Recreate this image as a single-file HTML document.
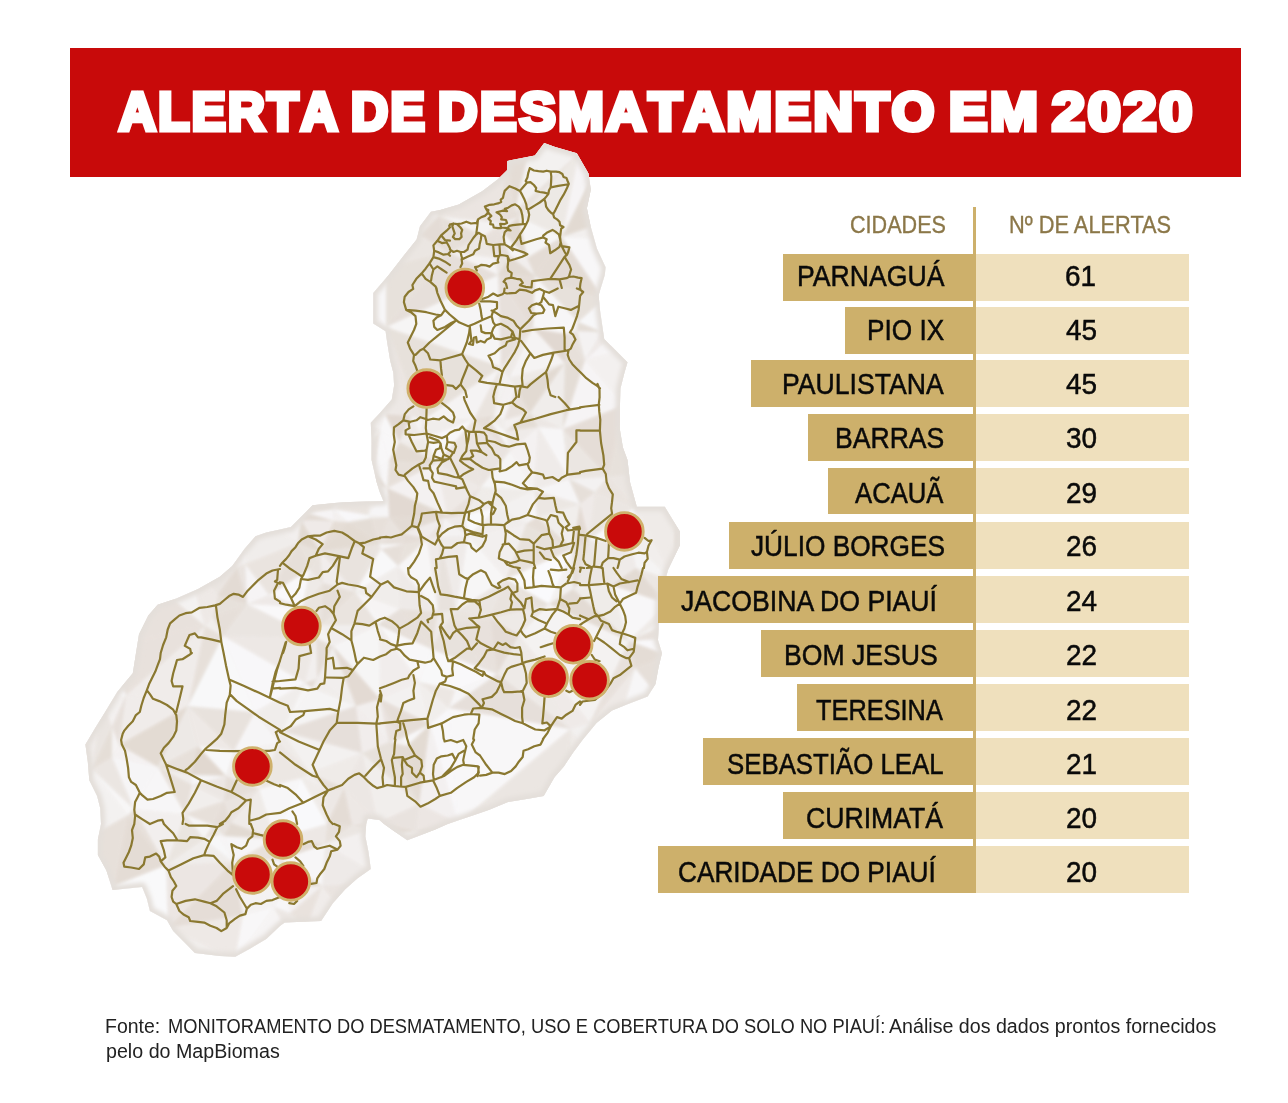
<!DOCTYPE html>
<html lang="pt-BR">
<head>
<meta charset="utf-8">
<title>Alerta de desmatamento em 2020</title>
<style>
html,body{margin:0;padding:0;background:#fff;}
body{width:1288px;height:1103px;position:relative;overflow:hidden;font-family:"Liberation Sans",sans-serif;}
#banner{position:absolute;left:70px;top:48px;width:1171px;height:129px;background:#c80a0a;}
.t{position:absolute;display:block;line-height:60px;white-space:nowrap;transform-origin:0 50%;margin:0;}
#title{position:absolute;left:0;top:0;margin:0;font-weight:bold;color:#fff;font-size:56px;}
#title .t{font-weight:bold;-webkit-text-stroke:5px #fff;font-kerning:none;}
#map{position:absolute;left:0;top:0;width:1288px;height:1103px;}
.hd{color:#8b7748;-webkit-text-stroke:0.35px #8b7748;}
#vline{position:absolute;left:973px;top:207px;width:3px;height:686px;background:#cdb06b;}
.row{position:absolute;left:0;width:1288px;height:46.5px;}
.city{position:absolute;top:0;height:46.5px;background:#cdb06b;color:#0a0a0a;-webkit-text-stroke:0.5px #0a0a0a;}
.num{position:absolute;top:0;left:976px;width:213px;height:46.5px;background:#efe0bd;color:#0a0a0a;-webkit-text-stroke:0.5px #0a0a0a;}
#src{position:absolute;left:0;top:0;margin:0;color:#222;font-size:20px;}
</style>
</head>
<body>
<div id="banner"></div>
<svg id="map" viewBox="0 0 1288 1103" width="1288" height="1103">
<defs><clipPath id="pc"><path d="M420.0 226.2 L430.9 211.7 L440.2 209.9 L458.8 204.4 L482.1 191.2 L497.6 179.6 L507.0 170.3 L507.3 161.0 L534.9 155.5 L544.2 143.1 L555.1 147.0 L576.8 153.2 L588.5 173.4 L590.8 189.7 L586.9 208.3 L590.8 227.0 L597.0 248.7 L605.6 267.3 L604.8 275.1 L598.6 295.3 L600.1 310.8 L604.2 339.0 L615.1 349.8 L627.5 362.2 L624.4 373.1 L620.5 388.6 L619.8 410.4 L619.8 429.0 L622.9 447.6 L627.5 460.0 L630.0 482.0 L636.8 506.8 L664.8 506.8 L680.0 531.7 L680.0 545.0 L668.0 570.0 L660.0 600.0 L658.0 640.0 L662.0 653.0 L658.6 667.0 L655.5 684.1 L647.7 696.5 L627.5 704.2 L612.0 710.5 L596.5 722.9 L582.5 740.0 L573.2 752.4 L563.9 766.4 L554.5 777.2 L548.3 788.1 L543.7 795.9 L526.6 799.0 L508.0 802.1 L489.3 809.8 L480.0 812.9 L447.7 824.0 L435.3 829.4 L419.8 835.6 L407.3 840.3 L394.9 831.8 L384.0 824.0 L379.4 820.0 L367.7 818.4 L366.2 824.0 L365.4 836.4 L368.5 852.0 L370.8 869.0 L357.6 878.3 L345.2 889.2 L332.8 903.2 L321.1 921.0 L303.3 921.8 L284.7 922.6 L280.0 926.0 L266.3 938.9 L250.8 948.2 L235.3 956.8 L219.8 956.0 L194.9 952.9 L185.6 943.6 L173.2 931.1 L167.0 920.3 L149.9 911.0 L146.8 898.5 L142.1 886.9 L112.6 890.0 L106.4 870.6 L97.9 855.1 L97.9 839.5 L101.0 824.0 L100.2 808.3 L97.1 795.9 L89.3 780.3 L87.8 761.7 L85.4 744.6 L95.5 727.5 L103.3 715.1 L117.3 691.8 L132.8 673.2 L136.0 653.0 L139.0 634.2 L148.3 615.5 L157.6 604.7 L176.3 598.5 L198.0 589.1 L219.8 576.7 L232.2 565.9 L244.6 548.8 L255.5 536.3 L266.3 532.5 L280.0 529.5 L290.9 527.0 L312.6 505.3 L342.1 502.2 L383.3 500.9 L379.4 491.3 L376.6 482.0 L371.6 460.1 L371.6 443.0 L370.8 422.8 L379.4 413.5 L391.8 399.5 L394.1 385.5 L393.4 373.1 L390.2 360.7 L387.1 342.1 L385.6 331.2 L373.2 323.4 L373.2 311.0 L373.2 293.0 L388.7 275.1 L404.2 254.9 L416.6 239.4Z"/></clipPath><filter id="edge" x="-5%" y="-5%" width="110%" height="110%"><feGaussianBlur stdDeviation="2.2"/></filter></defs>
<path d="M420.0 226.2 L430.9 211.7 L440.2 209.9 L458.8 204.4 L482.1 191.2 L497.6 179.6 L507.0 170.3 L507.3 161.0 L534.9 155.5 L544.2 143.1 L555.1 147.0 L576.8 153.2 L588.5 173.4 L590.8 189.7 L586.9 208.3 L590.8 227.0 L597.0 248.7 L605.6 267.3 L604.8 275.1 L598.6 295.3 L600.1 310.8 L604.2 339.0 L615.1 349.8 L627.5 362.2 L624.4 373.1 L620.5 388.6 L619.8 410.4 L619.8 429.0 L622.9 447.6 L627.5 460.0 L630.0 482.0 L636.8 506.8 L664.8 506.8 L680.0 531.7 L680.0 545.0 L668.0 570.0 L660.0 600.0 L658.0 640.0 L662.0 653.0 L658.6 667.0 L655.5 684.1 L647.7 696.5 L627.5 704.2 L612.0 710.5 L596.5 722.9 L582.5 740.0 L573.2 752.4 L563.9 766.4 L554.5 777.2 L548.3 788.1 L543.7 795.9 L526.6 799.0 L508.0 802.1 L489.3 809.8 L480.0 812.9 L447.7 824.0 L435.3 829.4 L419.8 835.6 L407.3 840.3 L394.9 831.8 L384.0 824.0 L379.4 820.0 L367.7 818.4 L366.2 824.0 L365.4 836.4 L368.5 852.0 L370.8 869.0 L357.6 878.3 L345.2 889.2 L332.8 903.2 L321.1 921.0 L303.3 921.8 L284.7 922.6 L280.0 926.0 L266.3 938.9 L250.8 948.2 L235.3 956.8 L219.8 956.0 L194.9 952.9 L185.6 943.6 L173.2 931.1 L167.0 920.3 L149.9 911.0 L146.8 898.5 L142.1 886.9 L112.6 890.0 L106.4 870.6 L97.9 855.1 L97.9 839.5 L101.0 824.0 L100.2 808.3 L97.1 795.9 L89.3 780.3 L87.8 761.7 L85.4 744.6 L95.5 727.5 L103.3 715.1 L117.3 691.8 L132.8 673.2 L136.0 653.0 L139.0 634.2 L148.3 615.5 L157.6 604.7 L176.3 598.5 L198.0 589.1 L219.8 576.7 L232.2 565.9 L244.6 548.8 L255.5 536.3 L266.3 532.5 L280.0 529.5 L290.9 527.0 L312.6 505.3 L342.1 502.2 L383.3 500.9 L379.4 491.3 L376.6 482.0 L371.6 460.1 L371.6 443.0 L370.8 422.8 L379.4 413.5 L391.8 399.5 L394.1 385.5 L393.4 373.1 L390.2 360.7 L387.1 342.1 L385.6 331.2 L373.2 323.4 L373.2 311.0 L373.2 293.0 L388.7 275.1 L404.2 254.9 L416.6 239.4Z" fill="#e9e6e3"/>
<g clip-path="url(#pc)"><filter id="soft" x="-5%" y="-5%" width="110%" height="110%" color-interpolation-filters="sRGB"><feGaussianBlur stdDeviation="1.4"/></filter>
<g filter="url(#soft)" stroke="none">
<path d="M698 705L684 600L700 427z" fill="#e7e0db"/>
<path d="M663 966L659 927L692 943z" fill="#e8e2dc"/>
<path d="M181 162L123 139L228 157z" fill="#f1edec"/>
<path d="M123 139L181 162L152 164z" fill="#f9f8fa"/>
<path d="M111 183L123 139L152 164z" fill="#f2efee"/>
<path d="M693 217L652 183L634 135z" fill="#e7e0db"/>
<path d="M579 153L531 141L634 135z" fill="#eeeae7"/>
<path d="M113 255L78 279L70 237z" fill="#ebe6e2"/>
<path d="M193 253L186 315L164 297z" fill="#f0ecea"/>
<path d="M72 416L71 541L70 237z" fill="#e7e0da"/>
<path d="M115 922L154 965L99 941z" fill="#f3f1f0"/>
<path d="M233 862L168 928L166 865z" fill="#ece6e3"/>
<path d="M154 965L168 928L173 974z" fill="#f3f0ef"/>
<path d="M168 928L154 965L115 922z" fill="#ebe6e2"/>
<path d="M684 600L676 478L700 427z" fill="#e3dbd4"/>
<path d="M676 478L655 472L700 427z" fill="#e5ded8"/>
<path d="M223 636L188 706L205 626z" fill="#e7e0da"/>
<path d="M519 635L629 641L590 723z" fill="#f4f2f1"/>
<path d="M629 641L519 635L549 604z" fill="#f5f3f3"/>
<path d="M592 775L663 819L574 795z" fill="#e4dcd5"/>
<path d="M333 646L317 679L316 638z" fill="#e5ded8"/>
<path d="M589 885L579 900L575 861z" fill="#ede8e5"/>
<path d="M190 167L158 229L152 164z" fill="#eae4df"/>
<path d="M181 162L190 167L152 164z" fill="#f0edeb"/>
<path d="M190 167L181 162L228 157z" fill="#fafafc"/>
<path d="M123 139L108 139L83 131z" fill="#f2f0ef"/>
<path d="M82 207L79 162L106 194z" fill="#f7f6f7"/>
<path d="M79 162L111 183L106 194z" fill="#e5ddd6"/>
<path d="M111 183L79 162L95 153z" fill="#e8e1dc"/>
<path d="M95 153L79 162L83 131z" fill="#f8f7f8"/>
<path d="M83 131L79 162L70 237z" fill="#e2dad2"/>
<path d="M79 162L82 207L70 237z" fill="#f0edeb"/>
<path d="M158 229L109 189L152 164z" fill="#eeeae7"/>
<path d="M109 189L111 183L152 164z" fill="#e4ddd6"/>
<path d="M111 183L109 189L106 194z" fill="#f2efed"/>
<path d="M440 137L519 135L506 155z" fill="#f9f9fb"/>
<path d="M519 135L531 141L506 155z" fill="#e2d9d2"/>
<path d="M531 141L519 135L634 135z" fill="#f9f8f9"/>
<path d="M227 201L232 178L276 169z" fill="#e4ddd6"/>
<path d="M169 262L193 253L164 297z" fill="#f1edec"/>
<path d="M193 253L250 237L269 269z" fill="#f3f1f0"/>
<path d="M250 237L227 201L276 169z" fill="#f9f9fa"/>
<path d="M190 167L199 223L158 229z" fill="#e5ddd6"/>
<path d="M113 255L108 217L158 229z" fill="#f9f8fa"/>
<path d="M109 189L108 217L106 194z" fill="#f3f1f0"/>
<path d="M108 217L109 189L158 229z" fill="#f0ecea"/>
<path d="M108 217L82 207L106 194z" fill="#f1eeed"/>
<path d="M82 207L108 217L70 237z" fill="#e9e2de"/>
<path d="M108 217L113 255L70 237z" fill="#eae5e0"/>
<path d="M124 293L169 262L164 297z" fill="#f1eeed"/>
<path d="M169 262L124 293L113 255z" fill="#ece7e3"/>
<path d="M186 315L167 311L164 297z" fill="#e2dad2"/>
<path d="M221 316L193 253L269 269z" fill="#e7e0db"/>
<path d="M221 316L186 315L193 253z" fill="#f7f5f6"/>
<path d="M168 928L235 959L173 974z" fill="#f1eeec"/>
<path d="M235 959L338 969L173 974z" fill="#ece6e3"/>
<path d="M204 839L233 862L166 865z" fill="#f0edeb"/>
<path d="M338 969L470 971L173 974z" fill="#e4dcd5"/>
<path d="M470 971L602 938L663 966z" fill="#f1edeb"/>
<path d="M602 938L470 971L496 929z" fill="#ede8e5"/>
<path d="M188 706L126 695L205 626z" fill="#f0ecea"/>
<path d="M119 745L126 695L188 706z" fill="#f0ecea"/>
<path d="M71 541L71 662L70 237z" fill="#e8e2dd"/>
<path d="M168 928L114 886L166 865z" fill="#f9f9fa"/>
<path d="M114 886L168 928L115 922z" fill="#e9e4df"/>
<path d="M474 419L481 487L437 463z" fill="#ebe5e1"/>
<path d="M531 141L515 211L506 155z" fill="#e4dcd5"/>
<path d="M515 211L531 141L579 153z" fill="#f3f1f0"/>
<path d="M699 290L695 262L693 217z" fill="#eee9e6"/>
<path d="M659 345L699 290L700 427z" fill="#f0edeb"/>
<path d="M655 472L624 405L700 427z" fill="#ece6e3"/>
<path d="M624 405L608 477L563 429z" fill="#e5ddd7"/>
<path d="M608 477L624 405L655 472z" fill="#e7e1db"/>
<path d="M674 581L676 478L684 600z" fill="#e4dcd6"/>
<path d="M570 729L519 635L590 723z" fill="#efeae8"/>
<path d="M549 604L540 607L506 579z" fill="#e7e1db"/>
<path d="M519 635L540 607L549 604z" fill="#ebe6e2"/>
<path d="M269 595L298 543L310 569z" fill="#e6dfd9"/>
<path d="M245 564L298 543L269 595z" fill="#eae4df"/>
<path d="M323 583L302 607L310 569z" fill="#eeeae7"/>
<path d="M302 607L269 595L310 569z" fill="#f9f8fa"/>
<path d="M305 683L223 636L316 638z" fill="#ede8e5"/>
<path d="M317 679L305 683L316 638z" fill="#f2efee"/>
<path d="M305 683L317 679L312 688z" fill="#e3dbd4"/>
<path d="M213 617L223 636L205 626z" fill="#f1eeec"/>
<path d="M223 636L247 604L316 638z" fill="#eae5e1"/>
<path d="M247 604L302 607L316 638z" fill="#f9f8f9"/>
<path d="M302 607L247 604L269 595z" fill="#eee9e7"/>
<path d="M213 617L247 604L223 636z" fill="#e6dfd9"/>
<path d="M247 604L245 564L269 595z" fill="#f6f4f5"/>
<path d="M672 808L663 819L657 782z" fill="#ede8e5"/>
<path d="M695 746L672 808L657 782z" fill="#ede8e5"/>
<path d="M663 819L647 776L657 782z" fill="#f5f3f3"/>
<path d="M592 775L647 776L663 819z" fill="#f0edeb"/>
<path d="M647 776L592 775L618 727z" fill="#f2efee"/>
<path d="M647 776L695 746L657 782z" fill="#eee9e6"/>
<path d="M695 746L647 776L618 727z" fill="#f3f1f0"/>
<path d="M618 727L585 749L590 723z" fill="#f1edec"/>
<path d="M585 749L570 729L590 723z" fill="#f2f0ef"/>
<path d="M570 729L585 749L574 795z" fill="#efebe8"/>
<path d="M579 900L537 892L575 861z" fill="#f8f7f9"/>
<path d="M537 892L602 938L496 929z" fill="#f3f0ef"/>
<path d="M602 938L537 892L579 900z" fill="#f8f7f8"/>
<path d="M356 706L317 679L333 646z" fill="#f1eeed"/>
<path d="M317 679L356 706L312 688z" fill="#f0edeb"/>
<path d="M663 819L573 843L574 795z" fill="#e7e0db"/>
<path d="M669 836L573 843L663 819z" fill="#ece7e4"/>
<path d="M573 843L669 836L573 849z" fill="#e7e1db"/>
<path d="M659 927L657 916L692 943z" fill="#e5ded7"/>
<path d="M694 818L698 705L692 943z" fill="#eae4e0"/>
<path d="M694 818L695 746L698 705z" fill="#f9f9fa"/>
<path d="M694 818L672 808L695 746z" fill="#e9e3df"/>
<path d="M589 885L613 893L579 900z" fill="#eae4e0"/>
<path d="M669 836L613 893L573 849z" fill="#f6f4f4"/>
<path d="M573 849L613 893L575 861z" fill="#e2dad2"/>
<path d="M613 893L589 885L575 861z" fill="#f3f1f0"/>
<path d="M97 144L95 153L83 131z" fill="#f2f0ef"/>
<path d="M108 139L97 144L83 131z" fill="#e6dfd9"/>
<path d="M101 148L111 183L95 153z" fill="#e9e3de"/>
<path d="M97 144L101 148L95 153z" fill="#f0ecea"/>
<path d="M101 148L97 144L108 139z" fill="#f3f1f0"/>
<path d="M111 183L101 148L123 139z" fill="#f3f0ef"/>
<path d="M101 148L108 139L123 139z" fill="#efebe9"/>
<path d="M652 183L628 149L634 135z" fill="#f5f4f4"/>
<path d="M624 162L628 149L652 183z" fill="#f0ecea"/>
<path d="M628 149L579 153L634 135z" fill="#e6ded8"/>
<path d="M619 217L624 162L652 183z" fill="#efebe8"/>
<path d="M305 160L335 205L276 169z" fill="#f4f2f2"/>
<path d="M335 205L250 237L276 169z" fill="#e8e1dc"/>
<path d="M314 143L123 139L83 131z" fill="#f0ecea"/>
<path d="M230 167L190 167L228 157z" fill="#ebe6e2"/>
<path d="M230 167L232 178L190 167z" fill="#f9f9fb"/>
<path d="M169 262L169 253L193 253z" fill="#e7e1db"/>
<path d="M169 253L113 255L158 229z" fill="#f9f8fa"/>
<path d="M169 253L169 262L113 255z" fill="#f9f8fa"/>
<path d="M215 197L199 223L190 167z" fill="#f9f9fb"/>
<path d="M215 197L232 178L227 201z" fill="#ebe6e2"/>
<path d="M232 178L215 197L190 167z" fill="#f4f2f2"/>
<path d="M219 220L250 237L193 253z" fill="#f1eeec"/>
<path d="M250 237L219 220L227 201z" fill="#e3dbd4"/>
<path d="M219 220L215 197L227 201z" fill="#eeeae7"/>
<path d="M215 197L219 220L199 223z" fill="#f1eeec"/>
<path d="M108 290L78 279L113 255z" fill="#ebe6e2"/>
<path d="M124 293L108 290L113 255z" fill="#f8f7f8"/>
<path d="M108 290L104 309L78 279z" fill="#ece7e3"/>
<path d="M104 309L108 290L124 293z" fill="#f7f6f7"/>
<path d="M137 514L115 396L205 453z" fill="#f4f2f2"/>
<path d="M115 396L110 513L72 416z" fill="#f1eeec"/>
<path d="M110 513L115 396L137 514z" fill="#f3f0ef"/>
<path d="M221 316L197 331L186 315z" fill="#e6ded8"/>
<path d="M197 331L221 316L225 349z" fill="#e5ded7"/>
<path d="M197 331L167 311L186 315z" fill="#eae4e0"/>
<path d="M227 384L197 331L225 349z" fill="#f2efee"/>
<path d="M235 959L301 957L338 969z" fill="#f7f6f6"/>
<path d="M224 801L231 823L213 825z" fill="#e5ddd7"/>
<path d="M231 823L224 836L213 825z" fill="#e8e2dd"/>
<path d="M126 695L112 727L102 702z" fill="#f3f0ef"/>
<path d="M112 727L126 695L119 745z" fill="#e7e0db"/>
<path d="M126 695L101 649L205 626z" fill="#e8e1dc"/>
<path d="M101 649L126 695L102 702z" fill="#f8f8f9"/>
<path d="M71 662L101 649L102 702z" fill="#f2efee"/>
<path d="M114 886L74 915L82 841z" fill="#f7f6f7"/>
<path d="M74 915L115 922L99 941z" fill="#e9e3de"/>
<path d="M74 915L114 886L115 922z" fill="#eae4df"/>
<path d="M74 915L71 662L82 841z" fill="#e6ded8"/>
<path d="M501 367L423 420L386 327z" fill="#e7e1db"/>
<path d="M423 420L501 367L474 419z" fill="#f5f3f3"/>
<path d="M565 363L530 413L516 389z" fill="#e2dad2"/>
<path d="M538 427L530 413L563 429z" fill="#ece7e4"/>
<path d="M530 413L565 363L563 429z" fill="#f0edeb"/>
<path d="M464 515L481 487L499 507z" fill="#efece9"/>
<path d="M481 487L534 490L499 507z" fill="#efece9"/>
<path d="M534 490L526 524L499 507z" fill="#f3f1f0"/>
<path d="M510 451L481 487L474 419z" fill="#eae4e0"/>
<path d="M534 490L510 451L538 427z" fill="#f4f1f1"/>
<path d="M510 451L534 490L481 487z" fill="#f6f5f5"/>
<path d="M562 237L519 217L579 153z" fill="#ede9e5"/>
<path d="M519 217L515 211L579 153z" fill="#e8e2dd"/>
<path d="M515 211L500 223L506 155z" fill="#e7e0da"/>
<path d="M519 217L500 223L515 211z" fill="#e6ded8"/>
<path d="M624 405L585 360L625 349z" fill="#f3f0ef"/>
<path d="M565 363L585 360L563 429z" fill="#e4ddd6"/>
<path d="M585 360L624 405L563 429z" fill="#f6f4f5"/>
<path d="M659 345L649 312L699 290z" fill="#e1d8d1"/>
<path d="M659 345L660 381L625 349z" fill="#f0edeb"/>
<path d="M660 381L624 405L625 349z" fill="#ece6e3"/>
<path d="M660 381L659 345L700 427z" fill="#eae4e0"/>
<path d="M624 405L660 381L700 427z" fill="#ede8e4"/>
<path d="M573 549L549 604L506 579z" fill="#fafafc"/>
<path d="M526 524L573 549L506 579z" fill="#e8e2dc"/>
<path d="M667 604L674 581L684 600z" fill="#eae4e0"/>
<path d="M674 581L667 604L636 568z" fill="#ece7e3"/>
<path d="M667 604L611 585L636 568z" fill="#e3dbd4"/>
<path d="M611 585L667 604L629 641z" fill="#f8f7f8"/>
<path d="M285 471L307 513L269 489z" fill="#fafafb"/>
<path d="M245 564L252 513L298 543z" fill="#f0edeb"/>
<path d="M246 468L252 513L235 512z" fill="#e7e0da"/>
<path d="M252 513L246 468L269 489z" fill="#e2d9d1"/>
<path d="M321 625L302 607L323 583z" fill="#eae4df"/>
<path d="M302 607L321 625L316 638z" fill="#eeeae7"/>
<path d="M321 625L333 646L316 638z" fill="#f5f3f3"/>
<path d="M333 646L321 625L379 625z" fill="#f1eeed"/>
<path d="M255 712L234 751L188 706z" fill="#e8e2dd"/>
<path d="M223 636L255 712L188 706z" fill="#f8f8f9"/>
<path d="M305 683L255 712L223 636z" fill="#f8f7f9"/>
<path d="M658 696L668 655L698 705z" fill="#e3dbd3"/>
<path d="M695 746L658 696L698 705z" fill="#e8e1dc"/>
<path d="M658 696L695 746L618 727z" fill="#e1d8d1"/>
<path d="M592 775L588 770L618 727z" fill="#eeeae7"/>
<path d="M588 770L585 749L618 727z" fill="#f4f2f1"/>
<path d="M588 770L592 775L574 795z" fill="#f0ecea"/>
<path d="M585 749L588 770L574 795z" fill="#e5ddd7"/>
<path d="M482 916L537 892L496 929z" fill="#e7e0da"/>
<path d="M537 892L482 916L497 853z" fill="#ede8e5"/>
<path d="M470 971L482 916L496 929z" fill="#f3f1f0"/>
<path d="M395 937L470 971L338 969z" fill="#f7f6f7"/>
<path d="M395 937L482 916L470 971z" fill="#f0ecea"/>
<path d="M482 916L395 937L395 877z" fill="#f0ecea"/>
<path d="M224 801L259 789L231 823z" fill="#eae4e0"/>
<path d="M259 789L224 801L226 776z" fill="#e5ded8"/>
<path d="M234 751L259 789L226 776z" fill="#f0edeb"/>
<path d="M573 843L564 805L574 795z" fill="#e6dfd9"/>
<path d="M564 805L570 729L574 795z" fill="#ece7e3"/>
<path d="M532 847L573 843L573 849z" fill="#f8f7f9"/>
<path d="M532 847L537 892L497 853z" fill="#f5f3f3"/>
<path d="M532 847L564 805L573 843z" fill="#f7f7f8"/>
<path d="M532 847L573 849L575 861z" fill="#e7e0db"/>
<path d="M537 892L532 847L575 861z" fill="#ede8e5"/>
<path d="M688 834L694 818L692 943z" fill="#eeeae8"/>
<path d="M688 834L669 836L663 819z" fill="#e6ded8"/>
<path d="M672 808L688 834L663 819z" fill="#e2dad3"/>
<path d="M694 818L688 834L672 808z" fill="#ede8e5"/>
<path d="M615 927L602 938L579 900z" fill="#eae4e0"/>
<path d="M613 893L615 927L579 900z" fill="#f2efed"/>
<path d="M615 927L613 893L619 899z" fill="#f2f0ef"/>
<path d="M657 916L615 927L619 899z" fill="#ebe5e1"/>
<path d="M615 927L657 916L659 927z" fill="#f4f2f2"/>
<path d="M615 927L659 927L663 966z" fill="#f4f2f2"/>
<path d="M602 938L615 927L663 966z" fill="#f5f3f3"/>
<path d="M619 217L598 165L624 162z" fill="#e4dcd5"/>
<path d="M628 149L598 165L579 153z" fill="#ebe6e2"/>
<path d="M598 165L628 149L624 162z" fill="#f4f2f1"/>
<path d="M598 165L562 237L579 153z" fill="#f6f4f5"/>
<path d="M598 165L619 217L562 237z" fill="#e2dad2"/>
<path d="M386 267L369 240L401 228z" fill="#f2efee"/>
<path d="M314 143L418 131L373 169z" fill="#e6dfd9"/>
<path d="M418 131L314 143L83 131z" fill="#f6f4f4"/>
<path d="M418 131L519 135L440 137z" fill="#f0edeb"/>
<path d="M519 135L418 131L634 135z" fill="#e7e0da"/>
<path d="M290 149L305 160L276 169z" fill="#e6dfd9"/>
<path d="M290 149L314 143L305 160z" fill="#e8e1dc"/>
<path d="M123 139L290 149L228 157z" fill="#eae4e0"/>
<path d="M314 143L290 149L123 139z" fill="#f3f0ef"/>
<path d="M169 253L192 240L193 253z" fill="#efece9"/>
<path d="M192 240L219 220L193 253z" fill="#f5f3f3"/>
<path d="M219 220L192 240L199 223z" fill="#f9f8f9"/>
<path d="M199 223L192 240L158 229z" fill="#f6f5f6"/>
<path d="M192 240L169 253L158 229z" fill="#ebe6e2"/>
<path d="M207 467L137 514L205 453z" fill="#f1eeec"/>
<path d="M207 467L185 533L137 514z" fill="#f1eeec"/>
<path d="M185 533L207 467L235 512z" fill="#f1eeec"/>
<path d="M207 467L246 468L235 512z" fill="#e3dbd4"/>
<path d="M227 543L185 533L235 512z" fill="#ede8e5"/>
<path d="M252 513L227 543L235 512z" fill="#ece7e3"/>
<path d="M227 543L252 513L245 564z" fill="#f5f3f3"/>
<path d="M185 533L136 517L137 514z" fill="#ece7e3"/>
<path d="M136 517L110 513L137 514z" fill="#f0edeb"/>
<path d="M218 595L247 604L213 617z" fill="#e7e1db"/>
<path d="M72 416L74 530L71 541z" fill="#f6f4f4"/>
<path d="M110 513L74 530L72 416z" fill="#e6dfd9"/>
<path d="M106 533L74 530L110 513z" fill="#f1eeec"/>
<path d="M136 517L106 533L110 513z" fill="#f0ecea"/>
<path d="M80 354L104 309L108 315z" fill="#f3f1f0"/>
<path d="M104 309L80 354L78 279z" fill="#efebe9"/>
<path d="M78 279L80 354L70 237z" fill="#ede9e6"/>
<path d="M80 354L72 416L70 237z" fill="#ece6e3"/>
<path d="M116 318L80 354L108 315z" fill="#f2f0ef"/>
<path d="M104 309L116 318L108 315z" fill="#f0ecea"/>
<path d="M116 318L104 309L124 293z" fill="#f0ecea"/>
<path d="M197 331L137 327L167 311z" fill="#e5ded8"/>
<path d="M137 327L116 318L124 293z" fill="#eee9e6"/>
<path d="M137 327L124 293L164 297z" fill="#e4dcd5"/>
<path d="M167 311L137 327L164 297z" fill="#e7e1db"/>
<path d="M234 376L227 384L225 349z" fill="#f1edec"/>
<path d="M227 384L234 376L261 388z" fill="#e5ddd7"/>
<path d="M241 429L227 384L261 388z" fill="#e8e2dd"/>
<path d="M246 468L241 429L267 455z" fill="#ebe5e1"/>
<path d="M273 345L234 376L225 349z" fill="#f6f4f4"/>
<path d="M234 376L273 345L261 388z" fill="#ebe5e1"/>
<path d="M273 345L221 316L269 269z" fill="#e2d9d2"/>
<path d="M221 316L273 345L225 349z" fill="#f8f7f8"/>
<path d="M285 471L271 478L267 455z" fill="#eae4df"/>
<path d="M271 478L285 471L269 489z" fill="#e8e1dc"/>
<path d="M271 478L246 468L267 455z" fill="#e8e2dd"/>
<path d="M246 468L271 478L269 489z" fill="#ede8e4"/>
<path d="M285 471L305 425L325 467z" fill="#e7e1db"/>
<path d="M353 924L395 937L338 969z" fill="#eae4e0"/>
<path d="M218 835L204 839L213 825z" fill="#e8e2dd"/>
<path d="M224 836L218 835L213 825z" fill="#f0edeb"/>
<path d="M204 839L218 835L233 862z" fill="#f7f7f8"/>
<path d="M218 835L224 836L233 862z" fill="#f7f5f6"/>
<path d="M234 751L198 746L188 706z" fill="#eee9e6"/>
<path d="M198 746L234 751L226 776z" fill="#f8f8f9"/>
<path d="M191 775L198 746L226 776z" fill="#e1d8d0"/>
<path d="M224 801L192 785L226 776z" fill="#ece7e4"/>
<path d="M192 785L191 775L226 776z" fill="#f6f5f6"/>
<path d="M101 649L81 640L99 601z" fill="#e6dfd9"/>
<path d="M81 640L101 649L71 662z" fill="#f9f9fb"/>
<path d="M81 640L71 662L71 541z" fill="#e7e0db"/>
<path d="M509 378L565 363L516 389z" fill="#eeeae7"/>
<path d="M565 363L509 378L533 328z" fill="#f5f3f3"/>
<path d="M509 378L501 367L533 328z" fill="#eeeae7"/>
<path d="M468 536L464 515L499 507z" fill="#f9f9fb"/>
<path d="M468 536L526 524L506 579z" fill="#f2efee"/>
<path d="M526 524L468 536L499 507z" fill="#f0edeb"/>
<path d="M456 611L468 536L506 579z" fill="#f7f6f6"/>
<path d="M468 536L444 518L464 515z" fill="#eeeae8"/>
<path d="M481 487L447 515L437 463z" fill="#eee9e6"/>
<path d="M464 515L447 515L481 487z" fill="#e8e1dc"/>
<path d="M444 518L447 515L464 515z" fill="#e2dad2"/>
<path d="M447 515L387 488L437 463z" fill="#f4f1f1"/>
<path d="M447 515L444 518L387 488z" fill="#e3dbd3"/>
<path d="M537 517L534 490L580 504z" fill="#ece7e3"/>
<path d="M534 490L537 517L526 524z" fill="#f7f6f7"/>
<path d="M573 549L537 517L580 504z" fill="#f1eeec"/>
<path d="M537 517L573 549L526 524z" fill="#e5ddd6"/>
<path d="M530 413L504 420L516 389z" fill="#e8e1dc"/>
<path d="M527 258L519 217L562 237z" fill="#f6f5f5"/>
<path d="M567 334L585 360L565 363z" fill="#e7e0da"/>
<path d="M567 334L565 363L533 328z" fill="#e1d8d1"/>
<path d="M578 322L567 334L533 328z" fill="#f8f7f8"/>
<path d="M604 299L602 332L578 322z" fill="#f7f7f8"/>
<path d="M534 490L569 479L580 504z" fill="#f6f5f6"/>
<path d="M569 479L595 492L580 504z" fill="#e6dfd9"/>
<path d="M569 479L538 427L563 429z" fill="#f7f6f7"/>
<path d="M569 479L534 490L538 427z" fill="#efebe9"/>
<path d="M608 477L569 479L563 429z" fill="#ebe6e2"/>
<path d="M595 492L569 479L608 477z" fill="#f3f1f1"/>
<path d="M611 585L631 542L636 568z" fill="#efebe9"/>
<path d="M631 542L674 581L636 568z" fill="#f5f4f4"/>
<path d="M444 518L389 517L387 488z" fill="#e2d9d2"/>
<path d="M355 592L381 622L379 625z" fill="#f9f9fb"/>
<path d="M381 622L355 592L400 609z" fill="#f6f4f4"/>
<path d="M355 592L398 566L400 609z" fill="#f0edeb"/>
<path d="M321 625L355 592L379 625z" fill="#eae4df"/>
<path d="M355 592L321 625L323 583z" fill="#e6dfd9"/>
<path d="M398 566L438 612L400 609z" fill="#eeeae8"/>
<path d="M438 612L398 566L427 539z" fill="#f7f6f6"/>
<path d="M321 486L285 471L325 467z" fill="#f3f1f0"/>
<path d="M321 486L307 513L285 471z" fill="#eeeae8"/>
<path d="M252 513L301 520L298 543z" fill="#f2efee"/>
<path d="M307 513L301 520L269 489z" fill="#f1eeec"/>
<path d="M301 520L252 513L269 489z" fill="#ede8e5"/>
<path d="M668 655L635 668L629 641z" fill="#e4dcd5"/>
<path d="M658 696L635 668L668 655z" fill="#e6dfd9"/>
<path d="M635 668L658 696L618 727z" fill="#f7f6f7"/>
<path d="M635 668L618 727L590 723z" fill="#eee9e6"/>
<path d="M629 641L635 668L590 723z" fill="#e8e1dc"/>
<path d="M356 706L282 731L312 688z" fill="#f5f4f4"/>
<path d="M282 731L305 683L312 688z" fill="#f6f5f5"/>
<path d="M282 731L255 712L305 683z" fill="#f0edeb"/>
<path d="M688 834L656 883L669 836z" fill="#e2dad2"/>
<path d="M656 883L657 916L619 899z" fill="#e9e3de"/>
<path d="M657 916L656 883L692 943z" fill="#f6f5f5"/>
<path d="M656 883L688 834L692 943z" fill="#f8f7f8"/>
<path d="M613 893L656 883L619 899z" fill="#e2d9d2"/>
<path d="M656 883L613 893L669 836z" fill="#f7f7f8"/>
<path d="M667 221L652 183L693 217z" fill="#f2efed"/>
<path d="M667 221L651 215L652 183z" fill="#e2d9d2"/>
<path d="M637 219L619 217L652 183z" fill="#f1edeb"/>
<path d="M651 215L637 219L652 183z" fill="#ebe6e2"/>
<path d="M349 191L369 240L335 205z" fill="#e6dfd9"/>
<path d="M394 178L349 191L373 169z" fill="#f1eeed"/>
<path d="M349 191L394 178L401 228z" fill="#f0ecea"/>
<path d="M369 240L349 191L401 228z" fill="#eee9e7"/>
<path d="M349 191L335 205L305 160z" fill="#eeeae7"/>
<path d="M349 191L314 143L373 169z" fill="#f8f8f9"/>
<path d="M314 143L349 191L305 160z" fill="#ebe5e1"/>
<path d="M349 280L386 267L386 327z" fill="#f7f6f7"/>
<path d="M345 312L349 280L386 327z" fill="#f6f4f5"/>
<path d="M420 139L394 178L373 169z" fill="#efeae8"/>
<path d="M418 131L420 139L373 169z" fill="#ede8e5"/>
<path d="M290 149L270 165L228 157z" fill="#eae5e0"/>
<path d="M270 165L290 149L276 169z" fill="#e9e2dd"/>
<path d="M270 165L230 167L228 157z" fill="#efebe8"/>
<path d="M232 178L270 165L276 169z" fill="#e8e1dc"/>
<path d="M230 167L270 165L232 178z" fill="#f6f4f5"/>
<path d="M101 649L141 572L205 626z" fill="#e8e1dc"/>
<path d="M141 572L101 649L99 601z" fill="#efebe9"/>
<path d="M141 572L106 533L136 517z" fill="#e4dcd5"/>
<path d="M74 530L86 556L71 541z" fill="#f2f0ef"/>
<path d="M106 533L86 556L74 530z" fill="#ebe6e2"/>
<path d="M86 556L81 640L71 541z" fill="#ebe5e1"/>
<path d="M81 640L86 556L99 601z" fill="#ebe6e2"/>
<path d="M86 556L141 572L99 601z" fill="#e4dcd5"/>
<path d="M141 572L86 556L106 533z" fill="#e9e3de"/>
<path d="M95 388L115 396L72 416z" fill="#f3f1f0"/>
<path d="M80 354L95 388L72 416z" fill="#ede8e5"/>
<path d="M113 381L137 327L197 331z" fill="#ebe5e1"/>
<path d="M113 381L227 384L115 396z" fill="#e9e2dd"/>
<path d="M227 384L113 381L197 331z" fill="#ede8e4"/>
<path d="M95 388L113 381L115 396z" fill="#f7f7f7"/>
<path d="M113 381L95 388L80 354z" fill="#e8e1db"/>
<path d="M116 318L113 381L80 354z" fill="#eeeae7"/>
<path d="M137 327L113 381L116 318z" fill="#f2eeed"/>
<path d="M241 429L285 426L267 455z" fill="#ede8e4"/>
<path d="M305 425L285 426L300 416z" fill="#e4ddd6"/>
<path d="M300 416L285 426L261 388z" fill="#f3f1f0"/>
<path d="M285 426L241 429L261 388z" fill="#f2efee"/>
<path d="M285 426L285 471L267 455z" fill="#efebe9"/>
<path d="M285 426L305 425L285 471z" fill="#f9f8fa"/>
<path d="M241 429L215 434L227 384z" fill="#e8e2dd"/>
<path d="M115 396L215 434L205 453z" fill="#f3f1f0"/>
<path d="M227 384L215 434L115 396z" fill="#f3f1f0"/>
<path d="M313 412L273 345L345 312z" fill="#ede9e6"/>
<path d="M313 412L300 416L261 388z" fill="#f2f0ef"/>
<path d="M273 345L313 412L261 388z" fill="#f4f2f1"/>
<path d="M385 414L313 412L386 327z" fill="#f5f3f3"/>
<path d="M313 412L345 312L386 327z" fill="#f4f2f2"/>
<path d="M313 412L305 425L300 416z" fill="#e2d9d2"/>
<path d="M380 430L313 412L385 414z" fill="#f2efee"/>
<path d="M305 425L313 412L325 467z" fill="#e5ded8"/>
<path d="M313 412L380 430L325 467z" fill="#ede8e5"/>
<path d="M243 915L168 928L233 862z" fill="#e5ddd7"/>
<path d="M243 915L235 959L168 928z" fill="#eee9e6"/>
<path d="M301 778L275 839L259 789z" fill="#f7f6f7"/>
<path d="M259 789L275 839L231 823z" fill="#efebe8"/>
<path d="M275 839L280 860L233 862z" fill="#e8e1db"/>
<path d="M224 836L275 839L233 862z" fill="#f6f5f6"/>
<path d="M275 839L224 836L231 823z" fill="#e2dad2"/>
<path d="M301 957L323 939L338 969z" fill="#f0ecea"/>
<path d="M323 939L353 924L338 969z" fill="#ebe6e2"/>
<path d="M395 937L388 881L395 877z" fill="#e6ded8"/>
<path d="M353 924L388 881L395 937z" fill="#ede8e4"/>
<path d="M204 839L185 814L213 825z" fill="#f6f5f5"/>
<path d="M185 814L224 801L213 825z" fill="#e7e0da"/>
<path d="M185 814L192 785L224 801z" fill="#f1eeec"/>
<path d="M185 814L204 839L166 865z" fill="#eae5e0"/>
<path d="M444 518L440 537L427 539z" fill="#ebe5e1"/>
<path d="M440 537L444 518L468 536z" fill="#f4f2f2"/>
<path d="M440 537L468 536L456 611z" fill="#efebe9"/>
<path d="M440 537L438 612L427 539z" fill="#efebe9"/>
<path d="M438 612L440 537L456 611z" fill="#e8e2dd"/>
<path d="M510 451L505 431L538 427z" fill="#efebe9"/>
<path d="M505 431L530 413L538 427z" fill="#e4ddd6"/>
<path d="M505 431L504 420L530 413z" fill="#f3f0ef"/>
<path d="M420 235L386 267L401 228z" fill="#f2efed"/>
<path d="M501 231L500 223L519 217z" fill="#f3f1f0"/>
<path d="M527 258L501 231L519 217z" fill="#e2dad2"/>
<path d="M501 231L484 236L500 223z" fill="#e9e2dd"/>
<path d="M501 367L498 275L533 328z" fill="#e7e0db"/>
<path d="M498 275L501 367L386 327z" fill="#f6f5f5"/>
<path d="M631 333L659 345L625 349z" fill="#f4f2f2"/>
<path d="M631 333L649 312L659 345z" fill="#efebe9"/>
<path d="M631 333L604 299L649 312z" fill="#ede9e5"/>
<path d="M577 331L602 332L585 360z" fill="#f4f2f2"/>
<path d="M567 334L577 331L585 360z" fill="#e8e2dd"/>
<path d="M602 332L577 331L578 322z" fill="#e4ddd6"/>
<path d="M577 331L567 334L578 322z" fill="#f3f0ef"/>
<path d="M535 276L604 299L578 322z" fill="#e7e1db"/>
<path d="M535 276L578 322L533 328z" fill="#f7f6f7"/>
<path d="M535 276L527 258L562 237z" fill="#e4dcd5"/>
<path d="M604 299L535 276L562 237z" fill="#e4dcd5"/>
<path d="M498 275L535 276L533 328z" fill="#e5ddd7"/>
<path d="M573 589L611 585L629 641z" fill="#efece9"/>
<path d="M573 589L577 586L611 585z" fill="#f4f1f1"/>
<path d="M573 589L629 641L549 604z" fill="#e3dbd4"/>
<path d="M573 549L573 589L549 604z" fill="#f3f1f0"/>
<path d="M577 586L573 589L573 549z" fill="#e4dcd5"/>
<path d="M589 540L573 549L580 504z" fill="#e3dad3"/>
<path d="M595 492L589 540L580 504z" fill="#efeae8"/>
<path d="M589 540L631 542L611 585z" fill="#ede9e6"/>
<path d="M577 586L589 540L611 585z" fill="#ece7e3"/>
<path d="M589 540L577 586L573 549z" fill="#e7e0db"/>
<path d="M635 507L595 492L608 477z" fill="#eae4df"/>
<path d="M635 507L608 477L655 472z" fill="#ebe6e2"/>
<path d="M635 507L589 540L595 492z" fill="#ebe6e2"/>
<path d="M589 540L635 507L631 542z" fill="#f9f9fb"/>
<path d="M676 478L635 507L655 472z" fill="#e9e3de"/>
<path d="M674 581L635 507L676 478z" fill="#efebe8"/>
<path d="M631 542L635 507L674 581z" fill="#f1eeec"/>
<path d="M399 442L380 430L385 414z" fill="#f8f7f8"/>
<path d="M398 566L404 544L427 539z" fill="#e8e2dc"/>
<path d="M298 543L320 551L310 569z" fill="#e8e2dc"/>
<path d="M320 551L323 583L310 569z" fill="#e9e3de"/>
<path d="M301 520L320 551L298 543z" fill="#e2dad2"/>
<path d="M320 551L355 592L323 583z" fill="#f1edec"/>
<path d="M669 617L667 604L684 600z" fill="#efebe9"/>
<path d="M672 622L669 617L684 600z" fill="#f5f3f3"/>
<path d="M667 604L669 617L629 641z" fill="#eeeae7"/>
<path d="M669 617L672 622L629 641z" fill="#f4f2f1"/>
<path d="M675 638L668 655L629 641z" fill="#f9f8fa"/>
<path d="M672 622L675 638L629 641z" fill="#e7e0db"/>
<path d="M675 638L672 622L684 600z" fill="#e2d9d2"/>
<path d="M675 638L684 600L698 705z" fill="#f5f3f2"/>
<path d="M668 655L675 638L698 705z" fill="#f2efee"/>
<path d="M373 484L374 470L387 488z" fill="#e2dad3"/>
<path d="M301 778L279 743L310 773z" fill="#ece7e3"/>
<path d="M279 743L282 731L310 773z" fill="#efebe8"/>
<path d="M279 743L301 778L259 789z" fill="#ece7e3"/>
<path d="M279 743L259 789L234 751z" fill="#f3f1f0"/>
<path d="M255 712L279 743L234 751z" fill="#f6f5f6"/>
<path d="M282 731L279 743L255 712z" fill="#f2efee"/>
<path d="M482 916L452 843L497 853z" fill="#f4f2f2"/>
<path d="M452 843L482 916L395 877z" fill="#e3dbd4"/>
<path d="M458 823L419 804L430 724z" fill="#f3f0f0"/>
<path d="M564 805L458 823L570 729z" fill="#ebe6e2"/>
<path d="M458 823L532 847L497 853z" fill="#e5ded8"/>
<path d="M532 847L458 823L564 805z" fill="#e5ddd7"/>
<path d="M452 843L458 823L497 853z" fill="#ede8e5"/>
<path d="M282 731L362 753L310 773z" fill="#f3f1f0"/>
<path d="M362 753L282 731L356 706z" fill="#e6dfda"/>
<path d="M570 729L497 674L519 635z" fill="#eeeae7"/>
<path d="M431 649L497 674L455 690z" fill="#f9f8fa"/>
<path d="M438 612L431 649L400 609z" fill="#e7e0da"/>
<path d="M381 622L431 649L379 625z" fill="#e3dbd4"/>
<path d="M431 649L381 622L400 609z" fill="#e7e0db"/>
<path d="M695 262L684 222L693 217z" fill="#eae4e0"/>
<path d="M684 222L667 221L693 217z" fill="#ece7e3"/>
<path d="M667 221L684 222L695 262z" fill="#e9e2de"/>
<path d="M637 219L632 241L619 217z" fill="#ece7e3"/>
<path d="M632 241L667 221L695 262z" fill="#e4dcd5"/>
<path d="M619 217L632 241L562 237z" fill="#f2efee"/>
<path d="M632 241L604 299L562 237z" fill="#f8f7f8"/>
<path d="M667 221L632 241L651 215z" fill="#e8e2dd"/>
<path d="M632 241L637 219L651 215z" fill="#f5f3f3"/>
<path d="M366 246L369 240L386 267z" fill="#e9e2dd"/>
<path d="M349 280L366 246L386 267z" fill="#e8e1dc"/>
<path d="M369 240L366 246L335 205z" fill="#e6dfd9"/>
<path d="M307 273L349 280L345 312z" fill="#efebe9"/>
<path d="M307 273L273 345L269 269z" fill="#e4dcd5"/>
<path d="M273 345L307 273L345 312z" fill="#e8e1dc"/>
<path d="M366 246L307 273L335 205z" fill="#e9e3de"/>
<path d="M307 273L366 246L349 280z" fill="#f1eeec"/>
<path d="M420 139L421 140L394 178z" fill="#f5f3f3"/>
<path d="M421 140L418 131L440 137z" fill="#f5f3f3"/>
<path d="M421 140L420 139L418 131z" fill="#f6f4f4"/>
<path d="M198 566L190 543L227 543z" fill="#eeeae8"/>
<path d="M198 566L237 567L218 595z" fill="#eae5e1"/>
<path d="M247 604L237 567L245 564z" fill="#e9e3df"/>
<path d="M218 595L237 567L247 604z" fill="#e3dbd4"/>
<path d="M237 567L227 543L245 564z" fill="#f2efee"/>
<path d="M237 567L198 566L227 543z" fill="#ece7e3"/>
<path d="M141 572L194 587L205 626z" fill="#f4f2f1"/>
<path d="M194 587L198 566L218 595z" fill="#eee9e6"/>
<path d="M194 587L213 617L205 626z" fill="#eee9e6"/>
<path d="M194 587L218 595L213 617z" fill="#eee9e6"/>
<path d="M210 449L241 429L246 468z" fill="#f3f0ef"/>
<path d="M210 449L215 434L241 429z" fill="#f3f1f0"/>
<path d="M215 434L210 449L205 453z" fill="#f1eeec"/>
<path d="M210 449L207 467L205 453z" fill="#f3f0ef"/>
<path d="M207 467L210 449L246 468z" fill="#f7f5f6"/>
<path d="M322 886L388 881L353 924z" fill="#eae4e0"/>
<path d="M306 928L323 939L301 957z" fill="#f3f0ef"/>
<path d="M323 939L306 928L353 924z" fill="#f0ecea"/>
<path d="M306 928L322 886L353 924z" fill="#f0ecea"/>
<path d="M114 886L128 815L166 865z" fill="#e4dcd5"/>
<path d="M128 815L114 886L82 841z" fill="#e7e0da"/>
<path d="M505 431L490 420L504 420z" fill="#f0edeb"/>
<path d="M490 420L510 451L474 419z" fill="#e6ded8"/>
<path d="M490 420L505 431L510 451z" fill="#f7f7f7"/>
<path d="M394 178L439 216L401 228z" fill="#f0edeb"/>
<path d="M439 216L420 235L401 228z" fill="#ece7e4"/>
<path d="M439 216L421 140L440 137z" fill="#e8e1dc"/>
<path d="M421 140L439 216L394 178z" fill="#ece7e4"/>
<path d="M484 236L439 216L500 223z" fill="#f4f2f1"/>
<path d="M439 216L440 137L506 155z" fill="#e5ded7"/>
<path d="M500 223L439 216L506 155z" fill="#ebe5e1"/>
<path d="M510 256L501 231L527 258z" fill="#f5f4f4"/>
<path d="M535 276L510 256L527 258z" fill="#f1eeed"/>
<path d="M510 256L535 276L498 275z" fill="#e2dad2"/>
<path d="M420 235L449 252L386 267z" fill="#ebe6e2"/>
<path d="M386 267L449 252L386 327z" fill="#e7e1db"/>
<path d="M449 252L498 275L386 327z" fill="#e6dfda"/>
<path d="M449 252L439 216L484 236z" fill="#e6dfd9"/>
<path d="M439 216L449 252L420 235z" fill="#e4dcd6"/>
<path d="M611 336L631 333L625 349z" fill="#f6f4f4"/>
<path d="M585 360L611 336L625 349z" fill="#f6f4f5"/>
<path d="M602 332L611 336L585 360z" fill="#eee9e7"/>
<path d="M604 299L611 336L602 332z" fill="#ece8e4"/>
<path d="M631 333L611 336L604 299z" fill="#eeeae7"/>
<path d="M411 416L399 442L385 414z" fill="#e2d9d2"/>
<path d="M411 416L385 414L386 327z" fill="#ede8e5"/>
<path d="M423 420L411 416L386 327z" fill="#ebe5e1"/>
<path d="M399 442L425 438L437 463z" fill="#efebe8"/>
<path d="M425 438L474 419L437 463z" fill="#f8f7f8"/>
<path d="M425 438L423 420L474 419z" fill="#f0edeb"/>
<path d="M387 488L389 461L437 463z" fill="#e7e0da"/>
<path d="M389 461L399 442L437 463z" fill="#e3dbd3"/>
<path d="M374 470L389 461L387 488z" fill="#f7f6f7"/>
<path d="M380 430L389 461L374 470z" fill="#f8f7f8"/>
<path d="M399 442L389 461L380 430z" fill="#f8f7f8"/>
<path d="M404 544L402 533L427 539z" fill="#e5ddd7"/>
<path d="M402 533L444 518L427 539z" fill="#f0eceb"/>
<path d="M402 533L389 517L444 518z" fill="#e3dbd4"/>
<path d="M373 484L348 472L374 470z" fill="#f7f6f7"/>
<path d="M380 430L348 472L325 467z" fill="#f8f8f9"/>
<path d="M348 472L380 430L374 470z" fill="#e9e3de"/>
<path d="M348 472L321 486L325 467z" fill="#e8e2dd"/>
<path d="M321 486L333 509L307 513z" fill="#e7e0da"/>
<path d="M348 472L333 509L321 486z" fill="#e8e2dd"/>
<path d="M333 509L348 472L373 484z" fill="#f2efee"/>
<path d="M416 831L452 843L395 877z" fill="#efeae8"/>
<path d="M458 823L416 831L419 804z" fill="#ece6e3"/>
<path d="M416 831L458 823L452 843z" fill="#e6dfd9"/>
<path d="M458 823L449 708L570 729z" fill="#f8f7f8"/>
<path d="M449 708L458 823L430 724z" fill="#f8f7f9"/>
<path d="M449 708L497 674L570 729z" fill="#e6dfda"/>
<path d="M497 674L449 708L455 690z" fill="#f6f5f6"/>
<path d="M419 804L407 746L430 724z" fill="#e3dbd3"/>
<path d="M497 674L490 618L519 635z" fill="#e4dcd6"/>
<path d="M490 618L456 611L506 579z" fill="#ebe6e2"/>
<path d="M540 607L490 618L506 579z" fill="#e9e3de"/>
<path d="M490 618L540 607L519 635z" fill="#eeeae7"/>
<path d="M604 299L651 303L649 312z" fill="#f2efed"/>
<path d="M632 241L651 303L604 299z" fill="#f1eeec"/>
<path d="M651 303L632 241L695 262z" fill="#e5ded7"/>
<path d="M651 303L695 262L699 290z" fill="#e3dbd4"/>
<path d="M649 312L651 303L699 290z" fill="#e5ddd7"/>
<path d="M250 237L281 262L269 269z" fill="#e3dbd4"/>
<path d="M281 262L307 273L269 269z" fill="#e6dfd9"/>
<path d="M335 205L281 262L250 237z" fill="#f0ecea"/>
<path d="M307 273L281 262L335 205z" fill="#e3dbd3"/>
<path d="M227 543L190 541L185 533z" fill="#ece7e3"/>
<path d="M190 543L190 541L227 543z" fill="#e2d9d1"/>
<path d="M164 569L190 543L198 566z" fill="#e9e3df"/>
<path d="M164 569L194 587L141 572z" fill="#e6dfd9"/>
<path d="M194 587L164 569L198 566z" fill="#eae4df"/>
<path d="M164 569L190 541L190 543z" fill="#f7f6f7"/>
<path d="M190 541L164 569L185 533z" fill="#e3dbd4"/>
<path d="M164 569L136 517L185 533z" fill="#e8e1dc"/>
<path d="M164 569L141 572L136 517z" fill="#ece7e3"/>
<path d="M274 907L301 957L235 959z" fill="#f6f4f4"/>
<path d="M243 915L274 907L235 959z" fill="#f8f7f8"/>
<path d="M274 907L243 915L233 862z" fill="#f4f2f2"/>
<path d="M362 753L344 788L310 773z" fill="#efebe8"/>
<path d="M322 886L325 844L388 881z" fill="#eeeae8"/>
<path d="M325 844L322 886L280 860z" fill="#f7f6f7"/>
<path d="M275 839L325 844L280 860z" fill="#e4dcd5"/>
<path d="M134 809L185 814L166 865z" fill="#f2efee"/>
<path d="M128 815L134 809L166 865z" fill="#e7e0da"/>
<path d="M92 769L128 815L82 841z" fill="#f3f1f0"/>
<path d="M92 769L134 809L128 815z" fill="#f7f6f6"/>
<path d="M112 727L92 769L102 702z" fill="#eae5e1"/>
<path d="M92 769L71 662L102 702z" fill="#f0ecea"/>
<path d="M71 662L92 769L82 841z" fill="#eae5e0"/>
<path d="M504 420L494 416L516 389z" fill="#f5f3f4"/>
<path d="M490 420L494 416L504 420z" fill="#ede8e5"/>
<path d="M494 416L509 378L516 389z" fill="#f4f1f1"/>
<path d="M494 416L490 420L474 419z" fill="#e3dbd4"/>
<path d="M501 367L494 416L474 419z" fill="#eae4df"/>
<path d="M509 378L494 416L501 367z" fill="#f3f1f0"/>
<path d="M495 258L510 256L498 275z" fill="#ebe6e2"/>
<path d="M495 258L449 252L484 236z" fill="#ece7e3"/>
<path d="M449 252L495 258L498 275z" fill="#f5f3f3"/>
<path d="M501 231L495 258L484 236z" fill="#e7e0db"/>
<path d="M510 256L495 258L501 231z" fill="#e6dfda"/>
<path d="M411 416L421 434L399 442z" fill="#efebe9"/>
<path d="M421 434L425 438L399 442z" fill="#f6f4f4"/>
<path d="M421 434L411 416L423 420z" fill="#f5f3f3"/>
<path d="M425 438L421 434L423 420z" fill="#eeeae7"/>
<path d="M333 509L334 521L307 513z" fill="#f6f4f5"/>
<path d="M334 521L301 520L307 513z" fill="#e3dbd4"/>
<path d="M334 521L320 551L301 520z" fill="#efeae8"/>
<path d="M334 521L348 522L320 551z" fill="#e5ddd6"/>
<path d="M334 521L333 509L348 522z" fill="#f3f0ef"/>
<path d="M371 518L379 544L348 522z" fill="#e4ddd6"/>
<path d="M379 544L402 533L404 544z" fill="#e6dfd9"/>
<path d="M402 533L379 544L389 517z" fill="#e9e3de"/>
<path d="M379 544L371 518L389 517z" fill="#e7e0da"/>
<path d="M320 551L379 544L355 592z" fill="#e9e3de"/>
<path d="M348 522L379 544L320 551z" fill="#e3dbd3"/>
<path d="M368 515L371 518L348 522z" fill="#f8f8f9"/>
<path d="M368 515L333 509L373 484z" fill="#eae4df"/>
<path d="M333 509L368 515L348 522z" fill="#f8f7f9"/>
<path d="M368 515L373 484L387 488z" fill="#f1eeec"/>
<path d="M389 517L368 515L387 488z" fill="#f6f5f6"/>
<path d="M371 518L368 515L389 517z" fill="#f4f2f1"/>
<path d="M386 835L416 831L395 877z" fill="#f0edeb"/>
<path d="M388 881L386 835L395 877z" fill="#e2d9d2"/>
<path d="M419 682L431 649L455 690z" fill="#f8f8f9"/>
<path d="M449 708L419 682L455 690z" fill="#ece7e3"/>
<path d="M419 682L449 708L430 724z" fill="#f1eeec"/>
<path d="M431 649L419 682L379 625z" fill="#f8f7f8"/>
<path d="M362 753L389 742L419 804z" fill="#e7e1db"/>
<path d="M389 742L407 746L419 804z" fill="#e4dcd5"/>
<path d="M389 742L362 753L356 706z" fill="#f1edec"/>
<path d="M431 649L445 624L497 674z" fill="#e8e2dd"/>
<path d="M445 624L490 618L497 674z" fill="#e8e1dc"/>
<path d="M490 618L445 624L456 611z" fill="#eae4df"/>
<path d="M445 624L438 612L456 611z" fill="#eeeae7"/>
<path d="M445 624L431 649L438 612z" fill="#efebe9"/>
<path d="M290 913L306 928L301 957z" fill="#eeeae7"/>
<path d="M274 907L290 913L301 957z" fill="#ece7e4"/>
<path d="M306 928L290 913L322 886z" fill="#e9e2dd"/>
<path d="M328 790L301 778L310 773z" fill="#f1eeec"/>
<path d="M344 788L328 790L310 773z" fill="#e6dfd9"/>
<path d="M158 767L198 746L191 775z" fill="#e7e0da"/>
<path d="M192 785L158 767L191 775z" fill="#f0edeb"/>
<path d="M158 767L119 745L188 706z" fill="#e3dbd3"/>
<path d="M198 746L158 767L188 706z" fill="#ede9e6"/>
<path d="M185 814L158 767L192 785z" fill="#e7e0da"/>
<path d="M134 809L158 767L185 814z" fill="#f7f6f7"/>
<path d="M92 769L112 757L134 809z" fill="#ebe6e2"/>
<path d="M158 767L112 757L119 745z" fill="#f4f1f1"/>
<path d="M112 757L158 767L134 809z" fill="#f6f5f6"/>
<path d="M112 757L112 727L119 745z" fill="#f5f3f3"/>
<path d="M112 757L92 769L112 727z" fill="#e5ded7"/>
<path d="M381 549L404 544L398 566z" fill="#e6dfd9"/>
<path d="M381 549L379 544L404 544z" fill="#f6f5f5"/>
<path d="M355 592L381 549L398 566z" fill="#f8f8f9"/>
<path d="M379 544L381 549L355 592z" fill="#ebe5e1"/>
<path d="M344 788L378 823L352 825z" fill="#ede8e5"/>
<path d="M378 823L362 753L419 804z" fill="#f1eeec"/>
<path d="M378 823L344 788L362 753z" fill="#ece7e4"/>
<path d="M416 831L378 823L419 804z" fill="#e9e3df"/>
<path d="M386 835L378 823L416 831z" fill="#e4dcd5"/>
<path d="M407 746L400 739L430 724z" fill="#f7f6f7"/>
<path d="M389 742L400 739L407 746z" fill="#f5f3f3"/>
<path d="M322 886L286 888L280 860z" fill="#e2dad2"/>
<path d="M290 913L286 888L322 886z" fill="#f3f0f0"/>
<path d="M286 888L290 913L274 907z" fill="#f7f6f7"/>
<path d="M280 860L286 888L233 862z" fill="#f6f4f5"/>
<path d="M286 888L274 907L233 862z" fill="#f4f2f2"/>
<path d="M325 844L327 824L352 825z" fill="#e7e0da"/>
<path d="M327 824L344 788L352 825z" fill="#e4dcd5"/>
<path d="M327 824L328 790L344 788z" fill="#ede8e5"/>
<path d="M327 824L325 844L275 839z" fill="#ede8e5"/>
<path d="M327 824L275 839L301 778z" fill="#f9f9fb"/>
<path d="M328 790L327 824L301 778z" fill="#efebe8"/>
<path d="M378 823L372 829L352 825z" fill="#e5ddd7"/>
<path d="M372 829L378 823L386 835z" fill="#e7e0db"/>
<path d="M372 829L386 835L388 881z" fill="#e2d9d2"/>
<path d="M325 844L372 829L388 881z" fill="#f3f0ef"/>
<path d="M372 829L325 844L352 825z" fill="#ebe6e2"/>
<path d="M380 699L419 682L430 724z" fill="#f3f1f0"/>
<path d="M400 739L380 699L430 724z" fill="#e5ddd7"/>
<path d="M419 682L380 699L379 625z" fill="#f1edec"/>
<path d="M380 699L389 742L356 706z" fill="#f2efee"/>
<path d="M380 699L400 739L389 742z" fill="#e9e2de"/>
<path d="M380 699L333 646L379 625z" fill="#f6f5f5"/>
<path d="M380 699L356 706L333 646z" fill="#e3dad3"/>
</g><path d="M420.0 226.2 L430.9 211.7 L440.2 209.9 L458.8 204.4 L482.1 191.2 L497.6 179.6 L507.0 170.3 L507.3 161.0 L534.9 155.5 L544.2 143.1 L555.1 147.0 L576.8 153.2 L588.5 173.4 L590.8 189.7 L586.9 208.3 L590.8 227.0 L597.0 248.7 L605.6 267.3 L604.8 275.1 L598.6 295.3 L600.1 310.8 L604.2 339.0 L615.1 349.8 L627.5 362.2 L624.4 373.1 L620.5 388.6 L619.8 410.4 L619.8 429.0 L622.9 447.6 L627.5 460.0 L630.0 482.0 L636.8 506.8 L664.8 506.8 L680.0 531.7 L680.0 545.0 L668.0 570.0 L660.0 600.0 L658.0 640.0 L662.0 653.0 L658.6 667.0 L655.5 684.1 L647.7 696.5 L627.5 704.2 L612.0 710.5 L596.5 722.9 L582.5 740.0 L573.2 752.4 L563.9 766.4 L554.5 777.2 L548.3 788.1 L543.7 795.9 L526.6 799.0 L508.0 802.1 L489.3 809.8 L480.0 812.9 L447.7 824.0 L435.3 829.4 L419.8 835.6 L407.3 840.3 L394.9 831.8 L384.0 824.0 L379.4 820.0 L367.7 818.4 L366.2 824.0 L365.4 836.4 L368.5 852.0 L370.8 869.0 L357.6 878.3 L345.2 889.2 L332.8 903.2 L321.1 921.0 L303.3 921.8 L284.7 922.6 L280.0 926.0 L266.3 938.9 L250.8 948.2 L235.3 956.8 L219.8 956.0 L194.9 952.9 L185.6 943.6 L173.2 931.1 L167.0 920.3 L149.9 911.0 L146.8 898.5 L142.1 886.9 L112.6 890.0 L106.4 870.6 L97.9 855.1 L97.9 839.5 L101.0 824.0 L100.2 808.3 L97.1 795.9 L89.3 780.3 L87.8 761.7 L85.4 744.6 L95.5 727.5 L103.3 715.1 L117.3 691.8 L132.8 673.2 L136.0 653.0 L139.0 634.2 L148.3 615.5 L157.6 604.7 L176.3 598.5 L198.0 589.1 L219.8 576.7 L232.2 565.9 L244.6 548.8 L255.5 536.3 L266.3 532.5 L280.0 529.5 L290.9 527.0 L312.6 505.3 L342.1 502.2 L383.3 500.9 L379.4 491.3 L376.6 482.0 L371.6 460.1 L371.6 443.0 L370.8 422.8 L379.4 413.5 L391.8 399.5 L394.1 385.5 L393.4 373.1 L390.2 360.7 L387.1 342.1 L385.6 331.2 L373.2 323.4 L373.2 311.0 L373.2 293.0 L388.7 275.1 L404.2 254.9 L416.6 239.4Z" fill="none" stroke="#e4dfda" stroke-width="9" stroke-linejoin="round" filter="url(#edge)"/></g>
<path d="M450.0 224.4 L449.2 226.0 M599.6 397.3 L598.8 404.2 L599.3 411.9 L600.3 419.7 L599.9 430.6 L601.1 443.0 L603.4 455.4 L604.2 464.7 L602.7 468.6 L605.8 474.0 L606.6 482.0 M580.0 407.3 L585.6 406.5 L599.3 404.9 M580.0 472.1 L585.6 470.9 L602.7 468.6 M599.9 430.6 L580.0 430.6 M280.0 569.0 L272.5 570.5 L266.3 573.6 L258.6 579.8 L252.4 586.0 L247.7 590.7 L243.0 596.9 L238.4 594.6 L233.7 593.8 L229.1 596.1 L224.4 600.0 L219.8 603.9 L215.1 605.4 L207.3 607.0 L199.6 607.8 L191.8 612.4 L185.6 613.2 L179.4 615.5 L174.7 619.4 L170.1 623.3 L167.7 629.5 L166.2 637.3 L163.1 645.0 L160.7 653.0 M215.9 605.4 L217.4 617.1 L219.8 629.5 L221.3 641.9 L223.6 653.0 M221.3 641.9 L212.0 639.6 L201.1 637.3 L198.0 637.3 L194.9 633.4 L189.5 635.0 L187.1 640.4 L184.8 645.8 L190.2 648.9 L191.0 653.0 M278.0 569.7 L277.2 579.8 L274.9 581.4 L280.0 583.7 M277.2 584.5 L274.1 590.7 L274.9 598.5 L280.0 601.6 M380.0 538.1 L373.2 539.5 L365.4 542.6 L359.2 543.3 L354.5 541.0 L348.3 536.3 L342.1 532.5 L334.3 530.9 L326.6 532.5 L320.4 535.6 L314.2 535.6 L308.0 536.3 L301.7 539.5 L297.9 543.3 L295.5 547.2 L291.6 551.1 L289.3 555.0 L286.2 558.9 L282.3 562.7 L280.0 565.9 M362.3 553.4 L373.2 558.9 L371.6 567.4 L370.1 576.7 L380.0 583.8 M359.2 543.3 L363.9 547.2 L362.3 553.4 M354.5 541.8 L352.2 547.2 L348.3 558.1 L339.0 556.2 L325.0 553.4 L315.7 555.8 L309.5 558.1 L307.2 565.9 L303.3 575.2 L301.0 579.0 M308.0 536.3 L315.7 539.5 L322.7 544.1 L318.8 548.8 L315.7 555.8 M282.3 562.7 L289.3 568.2 L295.5 572.1 L301.0 575.9 L303.3 575.2 M301.0 579.0 L308.0 579.8 L318.8 577.5 L322.7 572.1 L328.1 571.3 L332.8 565.9 L337.5 558.1 L339.0 556.2 M339.8 558.1 L338.2 570.5 L336.7 581.4 L337.5 584.5 L329.7 590.7 L318.8 593.8 L308.0 597.7 L300.2 601.6 L294.8 606.2 M280.0 582.2 L283.1 582.9 L286.2 589.1 L290.9 597.7 L294.8 606.2 M301.0 579.0 L299.4 587.6 L295.5 593.8 L291.6 597.7 M337.5 584.5 L342.1 582.9 L348.3 584.5 L357.6 586.0 L365.4 588.4 L366.2 593.0 L371.6 596.9 M337.5 590.7 L339.8 596.9 L334.3 606.2 L333.6 614.0 L329.7 609.3 L325.0 606.2 L318.8 607.8 L316.5 610.9 M333.6 614.0 L335.9 620.2 L331.2 628.0 L328.1 634.2 L329.7 641.9 L326.6 648.1 L326.6 653.0 M331.2 628.0 L342.1 634.2 L351.4 640.4 L353.0 646.6 L354.5 653.0 M380.0 585.7 L371.6 596.9 L363.9 604.7 L357.6 610.9 L354.5 623.3 L351.4 631.1 L351.4 640.4 M354.5 623.3 L362.3 624.1 L369.3 625.6 L375.5 621.8 L380.0 619.3 M375.5 621.8 L377.8 631.1 L380.0 637.6 M280.0 603.1 L286.2 604.7 L294.8 606.2 M309.5 643.5 L311.1 653.0 M286.2 641.9 L284.7 648.1 L283.1 653.0 M606.6 482.0 L608.9 488.2 L612.8 494.4 L612.0 502.2 L611.2 508.4 L612.0 513.1 M644.6 537.9 L648.5 541.0 L651.6 540.2 L648.5 545.7 L646.9 551.9 L647.7 558.9 L644.6 562.7 L643.9 568.0 M612.0 513.8 L599.6 523.9 L587.1 534.0 M580.0 534.9 L587.1 535.6 L596.5 537.9 L605.8 541.0 M585.6 535.6 L584.8 544.1 L584.0 553.4 L583.3 559.6 L585.6 564.3 L590.2 566.6 M596.5 537.9 L595.7 547.2 L594.9 556.5 L594.1 565.9 L591.0 567.4 L591.0 568.0 M608.9 542.6 L608.6 550.3 L608.1 558.1 L602.7 562.7 L601.1 567.4 L594.1 566.6 M608.1 558.1 L613.5 558.1 L619.8 559.6 L624.4 556.5 L632.2 554.2 L638.4 552.7 L644.6 553.4 L646.9 551.9 M619.8 559.6 L618.2 565.9 L617.6 568.0 M601.3 568.0 L601.1 567.4 M580.0 567.5 L584.1 568.0 M586.9 568.0 L591.0 567.4 M160.7 653.0 L160.0 659.2 L157.6 665.4 L155.3 671.6 L152.2 677.8 L149.1 684.1 L146.8 690.3 L143.7 698.0 L141.3 705.8 L139.8 712.0 L135.9 715.1 L132.8 721.3 L128.1 726.0 L124.3 730.6 L122.7 733.7 L121.1 740.0 L121.9 744.6 L125.0 750.8 L126.6 758.6 L128.1 767.9 L128.9 777.2 L131.2 781.9 L135.9 785.0 L139.8 792.8 L137.5 797.4 L135.1 802.1 L134.3 809.8 L135.1 816.0 L134.3 824.0 M146.8 690.3 L149.9 694.1 L153.0 698.8 L159.2 701.1 L167.0 705.0 L173.2 709.7 L176.3 715.1 L177.0 721.3 L176.3 730.6 L173.2 736.9 L168.5 743.1 L163.9 747.7 L160.7 753.2 L163.9 760.1 L166.2 764.8 L170.1 777.2 L174.7 792.0 L167.0 792.8 L160.7 795.9 L153.0 799.0 L147.5 799.7 L142.1 795.1 L139.8 792.8 M176.3 712.0 L179.4 699.6 L182.5 686.4 L173.2 686.4 L171.6 681.0 L173.2 673.2 L175.5 665.4 L177.0 660.0 L182.5 659.2 L188.7 655.3 L191.8 653.0 M223.6 653.0 L226.0 665.4 L229.1 679.4 L230.6 685.6 L229.8 694.9 L226.7 702.7 L225.2 715.1 L224.4 724.4 L221.3 733.7 L216.6 739.2 L210.4 744.6 L205.8 748.5 L201.1 753.9 L194.9 761.7 L188.7 767.9 L185.6 770.2 M229.1 679.4 L243.0 685.6 L258.6 692.6 L280.0 702.7 M230.6 694.9 L236.8 701.1 L247.7 708.9 L258.6 716.7 L271.0 724.4 L280.0 729.9 M280.0 660.8 L275.7 671.6 L272.5 684.1 L270.2 695.7 M272.5 681.7 L280.0 681.0 M271.8 688.7 L280.0 687.9 M206.6 750.0 L219.8 750.8 L233.0 751.1 M269.4 750.8 L274.9 750.0 L277.2 743.1 L280.0 741.5 M280.0 729.9 L275.7 732.2 L278.8 740.0 M166.2 764.8 L176.3 768.7 L187.1 772.6 L201.1 780.3 L216.6 786.5 L231.4 792.0 L239.9 796.6 L246.1 800.5 L250.8 799.7 L250.0 808.3 L249.3 816.0 L249.3 824.0 M231.4 792.0 L236.8 780.3 M201.1 780.3 L194.9 792.8 L188.7 803.6 L182.5 812.9 L183.3 819.1 L182.5 824.0 M246.1 800.5 L238.4 808.3 L231.4 812.2 L229.1 816.0 L225.2 820.7 L219.8 824.0 M267.1 781.1 L274.1 784.2 L280.0 786.5 M249.3 820.7 L258.6 818.4 L266.3 814.5 L280.0 812.9 M135.1 814.5 L142.1 819.1 L149.9 824.0 M149.9 824.0 L157.6 820.7 L162.3 819.9 L163.9 824.0 M328.1 790.4 L334.3 788.1 L342.1 785.0 L348.3 778.8 L354.5 774.9 L359.2 773.3 L363.9 777.2 L368.5 781.9 L373.2 785.8 L377.0 788.1 L383.3 786.5 L387.1 785.0 L393.4 785.8 L399.6 786.5 L405.8 786.9 M405.8 786.9 L407.3 795.9 L415.1 801.3 L420.5 806.7 L427.5 803.6 L435.3 799.0 L439.9 795.9 L450.8 792.8 L457.0 788.1 L466.3 781.9 L474.1 777.2 L478.8 772.6 L478.0 766.4 L471.0 765.6 L463.2 764.8 L457.0 767.1 L450.8 771.0 L444.6 775.7 L436.8 778.8 L433.0 780.3 L419.8 782.7 L405.8 786.9 M433.0 780.3 L436.8 788.1 L439.9 795.9 M328.1 790.4 L323.5 797.4 L322.7 805.2 L326.6 814.5 L329.7 820.7 L332.8 824.0 M280.0 812.9 L289.3 808.3 L303.3 802.8 L315.7 796.6 L328.1 790.4 M280.0 732.2 L283.1 733.7 L298.6 741.5 L319.6 750.0 M280.0 752.4 L295.5 764.8 L312.6 775.7 L318.0 777.2 M336.7 722.9 L329.7 730.6 L323.5 741.5 L319.6 750.0 L312.6 764.8 L318.0 777.2 L323.5 785.0 L328.1 790.4 M280.0 785.0 L287.8 788.1 L295.5 794.3 L303.3 802.8 M292.4 811.4 L295.5 816.0 L297.1 824.0 M336.7 722.9 L357.6 722.9 L376.3 723.7 L380.0 723.6 M336.7 722.9 L338.2 712.0 L340.6 699.6 L342.1 687.2 L343.7 677.8 L326.6 677.5 M343.7 677.8 L348.3 676.3 L353.0 670.1 L357.6 663.9 L363.9 657.7 L373.2 660.0 L380.0 656.6 M326.6 653.0 L325.8 665.4 L325.0 677.8 L324.3 683.3 L320.4 684.1 L317.3 688.7 L308.0 690.3 L295.5 687.9 L280.0 688.7 M280.0 681.0 L295.5 679.4 L298.6 668.5 L299.4 656.1 L311.1 653.0 M326.6 659.2 L332.8 657.7 L334.3 668.5 L346.8 667.8 L353.0 670.1 M354.5 653.0 L356.1 660.8 L357.6 663.9 M280.0 702.7 L287.8 705.8 L290.1 712.0 L304.8 711.2 L329.7 708.9 L338.2 711.2 M304.8 711.2 L303.3 715.1 L295.5 719.8 L290.9 726.0 L283.1 730.6 L280.0 732.2 M376.3 723.7 L377.8 716.7 L377.0 707.3 L379.4 698.0 L380.0 694.3 M444.1 739.3 L444.6 741.5 L450.8 740.0 L457.0 742.3 L463.2 740.0 L466.3 746.2 L464.8 752.4 L463.2 760.1 L464.0 764.8 M473.9 739.3 L474.1 740.0 L471.8 744.6 L475.7 752.4 L480.0 755.5 M464.0 750.8 L458.6 753.9 L455.5 760.1 L452.4 753.9 L447.7 755.5 L441.5 756.3 L436.8 758.6 L433.7 764.8 L433.0 774.1 L433.7 778.8 M455.5 760.1 L450.8 767.9 L444.6 774.1 L441.5 777.2 M376.3 723.7 L377.0 733.7 L377.8 746.2 L380.9 758.6 L384.0 767.9 L382.5 777.2 L383.3 786.5 M365.4 775.7 L373.2 767.1 L380.2 760.1 M395.4 739.3 L394.9 743.1 L394.1 753.9 L391.8 760.1 L393.4 769.5 L394.9 777.2 L394.9 785.0 M407.4 739.3 L408.9 744.6 L413.5 752.4 L415.1 755.5 L404.2 760.1 L402.7 757.0 L393.4 757.8 M415.1 755.5 L421.3 760.1 L422.1 766.4 L419.8 772.6 L416.6 777.2 L412.0 772.6 L412.0 767.9 L407.3 764.8 L404.2 760.1 M402.7 757.0 L401.9 764.8 L402.7 774.1 L401.1 777.2 L401.1 786.5 M419.8 772.6 L423.6 775.7 L424.4 781.9 M543.2 739.3 L540.6 744.6 L534.3 746.2 L528.1 749.3 L523.5 750.8 L522.7 757.0 L518.8 761.7 L515.7 766.4 L511.1 771.0 L504.8 774.1 L498.6 772.6 L492.4 772.6 L486.2 774.9 L480.0 775.7 M480.0 755.5 L486.2 764.8 L492.4 772.6 M134.3 824.0 L132.0 830.2 L132.8 838.0 L131.2 845.7 L128.9 852.0 L125.8 858.2 L123.5 862.8 L124.3 866.7 L131.2 867.5 L139.0 869.0 L143.7 864.4 L145.2 857.4 L149.9 856.6 L156.1 853.5 L159.2 856.6 L160.7 861.3 L164.6 866.7 L168.5 870.6 L170.8 876.8 L173.9 881.5 L176.3 886.1 L172.4 890.8 L171.6 897.0 L173.2 901.6 L176.3 904.0 L179.4 911.0 L184.0 914.8 L188.7 917.2 L190.2 921.0 L198.0 921.8 L204.2 922.6 L210.4 925.7 L216.6 928.0 L221.3 931.1 L226.7 928.0 L229.1 923.4 L235.3 918.7 L239.9 915.6 L245.4 914.1 L246.9 908.6 L250.8 904.7 L255.5 903.2 L260.9 904.0 L266.3 900.9 L272.5 900.1 L280.0 897.0 M160.7 861.3 L165.4 857.4 L163.9 850.4 L160.7 841.1 L167.0 840.3 L177.8 840.3 L187.1 841.1 L190.2 837.2 L198.0 837.7 L204.2 838.8 L209.7 841.9 M163.9 824.0 L168.5 828.7 L173.2 833.3 L177.0 839.5 M217.4 827.1 L213.5 834.9 L209.7 841.9 L205.8 850.4 L204.2 855.1 M168.5 870.6 L180.9 864.4 L193.4 858.2 L204.2 855.1 L213.5 855.8 L219.8 862.8 L227.5 870.6 L233.0 875.2 M176.3 904.0 L185.6 900.9 L194.9 899.3 L204.2 901.6 L210.4 903.2 L216.6 900.9 L222.9 893.9 L229.1 889.2 L233.0 886.1 M210.4 903.2 L216.6 906.3 L224.4 912.5 L226.7 920.3 L226.7 928.0 M236.1 889.2 L239.9 897.0 L244.6 904.7 L246.9 908.6 M233.0 875.2 L232.2 862.8 L233.7 855.1 L232.2 848.8 L231.4 844.2 L236.8 847.3 L241.5 848.8 L246.1 845.7 L248.5 839.5 L252.4 836.4 L253.1 830.2 L250.8 824.0 M253.9 833.3 L260.1 834.9 L263.2 835.6 M185.6 824.0 L188.7 825.6 L198.0 825.6 L207.3 825.6 L217.4 827.1 L222.9 824.0 M272.5 859.7 L274.1 864.4 L277.2 866.7 M334.3 824.0 L339.8 826.3 L339.0 831.8 L335.9 836.4 L339.8 841.1 L340.6 845.7 L337.5 849.6 L331.2 851.2 L329.7 856.6 L326.6 862.8 L324.3 869.0 L320.4 873.7 L317.3 878.3 L316.5 883.0 L311.1 883.8 M303.3 844.2 L308.0 841.9 L311.8 841.1 L314.2 846.5 L317.3 848.8 L323.5 847.3 L329.7 845.7 L335.9 848.8 L337.5 849.6 M295.5 857.4 L300.2 861.3 L303.3 865.9 M289.3 903.2 L294.0 904.0 L297.1 900.9 M450.0 227.2 L446.6 230.7 L441.1 235.3 L437.3 240.8 L433.4 245.4 L434.2 250.8 L433.4 257.1 L429.5 263.3 L425.6 268.7 L421.7 273.4 L416.3 278.8 L412.4 285.0 L413.2 288.9 L408.5 292.0 L404.7 296.7 L403.9 302.1 L406.2 309.9 L410.9 312.2 L415.5 316.1 L416.3 323.8 L414.0 330.0 L410.9 336.2 L407.8 342.5 L410.1 348.7 L414.0 354.9 L413.2 361.1 L415.5 365.8 L417.1 370.4 M441.1 235.3 L445.0 240.0 L450.0 240.6 M437.3 240.8 L441.9 243.1 L446.6 242.3 L448.9 246.2 L450.0 248.4 M450.0 252.1 L448.1 254.0 L443.5 254.7 L438.8 252.4 L434.2 250.8 M448.1 254.0 L450.0 255.8 M433.4 257.1 L438.8 258.6 L445.0 261.7 L449.7 264.8 L450.0 265.0 M580.3 288.5 L580.1 289.7 L583.2 292.0 L580.1 295.9 L579.3 303.6 L578.6 309.9 L577.0 316.1 L574.7 322.3 L572.4 328.5 L570.0 332.4 L573.1 334.7 L575.5 339.4 L572.4 344.8 L570.8 348.7 L568.5 350.2 L567.7 354.9 L569.3 359.5 L572.4 364.2 L577.0 368.9 L581.7 373.5 L586.3 378.2 L592.5 382.8 L597.2 385.9 L600.0 388.3 M576.9 288.5 L580.1 289.7 M504.6 288.5 L504.0 292.8 L507.1 293.5 L515.7 292.8 L519.6 289.7 L525.8 290.4 L532.0 292.8 L535.1 290.4 L539.8 288.9 L544.4 291.2 L542.9 296.7 L541.3 302.1 L539.0 303.6 M544.4 291.2 L549.1 292.8 L553.7 290.4 L557.7 288.5 M542.9 296.7 L546.0 300.5 L549.1 304.4 L553.0 305.2 L555.3 316.1 L556.8 311.4 L558.4 306.7 L564.6 308.3 L570.8 309.9 L578.6 306.0 M528.9 308.3 L532.0 305.2 L536.6 303.6 L541.3 305.2 L544.4 309.9 L542.9 313.0 L536.6 313.7 L531.2 313.0 L528.9 308.3 M482.3 299.0 L488.5 296.7 L493.2 293.5 L497.8 295.9 L502.5 294.3 L504.0 292.8 M480.7 301.3 L490.1 301.3 L497.0 302.1 L497.0 308.3 L493.2 310.6 L491.6 316.1 L493.2 322.3 L495.5 325.4 M479.2 303.6 L480.7 309.9 L481.5 316.1 L482.3 319.2 M491.6 310.6 L496.3 313.0 L500.9 316.1 L507.1 317.6 L513.4 320.7 L516.5 325.4 L520.3 329.3 L522.7 326.9 L528.9 320.7 L533.5 315.3 L536.6 313.7 M468.3 326.2 L474.5 323.8 L482.3 319.9 L490.1 316.8 M445.0 309.9 L449.7 314.5 L454.3 318.4 L459.0 322.3 L468.3 326.2 M406.2 309.9 L415.5 310.6 L426.4 312.2 L435.7 314.5 L441.1 315.3 L445.0 309.9 L440.4 300.5 L437.3 292.8 L436.5 288.1 M421.7 273.4 L425.6 278.8 L430.3 281.9 L435.7 286.6 L437.3 292.8 M429.5 263.3 L433.4 269.5 L431.8 275.7 L431.1 280.3 M433.4 269.5 L437.3 266.4 L441.9 269.5 L446.6 272.6 M441.1 315.3 L436.5 317.6 L433.4 320.7 L434.2 326.9 L437.3 330.0 L445.0 326.9 L451.2 323.0 L455.9 320.7 M455.9 320.7 L446.6 328.5 L437.3 336.2 L429.5 342.5 L423.3 348.7 L420.2 350.2 L415.5 354.9 M423.3 348.7 L428.0 353.3 L430.3 359.5 L440.4 360.3 L451.2 357.2 L462.1 354.1 L466.8 342.5 L469.1 333.1 L469.9 326.9 M462.1 354.1 L465.2 359.5 L468.3 364.2 L476.1 370.4 L482.3 375.8 L479.2 381.3 L487.0 382.8 L499.4 384.4 L514.9 386.7 L521.1 385.9 M468.3 364.2 L465.2 372.0 L462.1 379.7 L460.6 384.4 L465.2 390.6 L466.8 397.0 M440.4 360.3 L441.1 368.9 L441.9 375.1 M446.6 385.2 L452.8 385.9 L455.9 389.0 L459.0 385.9 L460.6 384.4 M469.9 327.7 L470.7 334.7 L471.4 340.9 L469.1 344.0 L473.0 344.8 L473.8 337.8 L476.1 337.0 L476.9 342.5 L480.7 340.9 L484.6 342.5 L487.0 339.4 L490.8 337.8 L491.6 333.1 L493.2 328.5 L495.5 325.4 M480.7 325.4 L481.5 331.6 L485.4 333.1 L490.1 333.1 M495.5 325.4 L500.9 323.8 L507.1 326.9 L512.6 331.6 L511.0 337.0 L500.9 339.4 L494.7 338.6 L491.6 333.1 M512.6 331.6 L514.9 337.8 L519.6 339.4 L520.3 329.3 M511.0 337.0 L514.9 339.4 L507.1 341.7 L505.6 345.6 L499.4 348.7 L494.7 353.3 L488.5 355.7 L491.6 361.1 L493.2 367.3 L499.4 369.6 L502.5 372.0 M519.6 339.4 L518.0 345.6 L514.9 351.8 L511.0 358.0 L507.1 364.2 L504.0 368.9 L502.5 372.0 L500.9 378.2 L499.4 384.4 M521.1 340.9 L525.8 347.1 L530.4 353.3 L534.3 358.0 L542.9 354.9 L553.7 352.6 L564.6 351.0 L568.5 350.2 M522.7 331.6 L532.0 330.0 L547.5 328.5 L563.8 327.7 L564.6 337.8 L564.6 351.0 M530.4 353.3 L525.8 361.1 L522.7 368.9 L521.9 378.2 L522.7 386.7 M553.7 352.6 L551.4 359.5 L547.5 368.9 L546.0 372.0 L538.2 378.2 L530.4 384.4 L527.3 387.5 L522.7 386.7 M514.9 386.7 L515.7 392.1 L516.5 397.0 M546.0 372.0 L547.5 379.7 L548.3 387.5 L550.6 395.3 L555.3 397.0 M493.2 397.0 L494.7 390.6 L496.3 385.9 M521.1 385.9 L519.6 390.6 L518.8 397.0 M413.4 406.3 L408.7 409.4 L404.8 414.1 L403.3 420.3 L398.6 424.2 L394.0 427.3 L393.7 434.3 L394.8 442.0 L393.2 449.8 L394.8 457.6 L396.3 465.3 L395.5 470.0 L398.6 474.6 L404.8 476.2 L408.0 480.9 L413.4 487.1 L417.3 493.3 L416.5 499.5 L414.9 505.7 L414.2 513.5 L412.6 521.2 L411.8 525.9 L406.4 530.5 L401.7 534.4 L395.5 536.0 L390.9 537.5 L386.2 536.8 L380.0 537.5 M411.8 525.9 L417.3 527.4 L420.4 535.2 L421.9 544.5 L418.8 553.8 L414.2 561.6 L409.5 568.0 M426.6 408.6 L426.3 418.7 L425.8 428.1 L426.6 433.5 M403.3 420.3 L410.3 421.8 L416.5 420.3 L420.4 417.2 L425.0 418.7 L426.6 418.7 M426.6 420.3 L432.8 418.7 L439.0 419.5 L443.7 416.4 L448.3 420.3 L453.0 422.6 L454.5 417.2 L453.0 412.5 L448.3 407.9 L442.1 403.2 M405.6 430.4 L409.5 428.1 L408.7 423.4 L410.3 421.8 M405.6 430.4 L405.6 434.3 L414.2 435.0 L426.6 433.5 L434.3 435.8 L442.1 438.1 L446.8 435.8 L449.9 432.7 L454.5 430.4 L459.2 429.6 L462.3 426.5 L465.4 430.4 L469.3 431.9 L474.7 431.9 M408.7 435.0 L411.8 442.0 L416.5 451.3 L425.0 450.6 L426.6 449.8 M426.6 434.3 L428.1 442.0 L426.6 449.8 L425.8 457.6 L423.5 462.2 L418.8 464.5 L412.6 468.4 L404.8 474.6 M418.8 464.5 L421.1 471.5 L423.5 480.1 L428.1 480.9 L429.7 488.6 L433.6 493.3 L437.5 502.6 L442.1 512.7 M423.5 468.4 L429.7 468.4 L432.8 473.1 L432.0 477.7 L434.3 481.6 L445.2 484.0 L456.1 486.3 L456.1 488.6 L465.4 487.1 M429.7 437.4 L433.6 438.9 L438.2 440.5 L440.6 443.6 L439.8 448.2 L435.9 449.8 L433.6 456.0 L432.8 460.7 L429.7 465.3 L430.5 470.0 M428.1 442.0 L433.6 442.8 L439.0 442.0 M433.6 456.0 L442.1 459.1 L443.7 454.5 L441.3 448.2 L440.6 443.6 M432.8 460.7 L442.1 459.9 L448.3 459.1 M446.8 435.8 L447.5 442.0 M447.5 442.0 L446.0 448.2 L449.9 450.6 L453.8 452.9 L456.1 446.7 L454.5 442.8 L447.5 442.0 M443.7 454.5 L449.9 457.6 L453.0 452.9 M449.9 457.6 L453.0 463.8 L456.1 470.0 L459.2 477.7 L462.3 479.3 L467.0 490.2 M448.3 459.1 L442.1 462.2 L437.5 468.4 L438.2 473.1 L446.8 474.6 L454.5 477.0 L459.2 477.7 M465.4 430.4 L466.2 437.4 L467.0 445.1 L466.2 451.3 L462.3 456.0 L460.0 460.7 L463.9 463.8 L468.5 466.9 L473.2 469.2 L468.5 471.5 L463.9 473.9 L459.2 477.7 M469.3 431.9 L468.5 438.9 L467.0 445.1 M473.2 431.9 L475.5 420.3 L470.1 412.5 L464.6 400.1 L463.9 397.0 M475.5 431.9 L476.3 437.4 L477.0 443.6 L487.1 442.8 L486.4 435.8 L484.0 432.7 L479.4 431.9 L475.5 431.9 M477.0 443.6 L479.4 448.2 L481.7 452.1 L486.4 455.2 M470.8 450.6 L476.3 450.6 L481.7 452.1 M470.8 450.6 L473.2 456.0 L470.1 458.3 L462.3 459.1 L470.1 459.1 L476.3 463.8 L482.5 467.7 L488.7 470.0 L494.9 469.2 L500.3 468.4 L500.3 459.1 L498.0 456.0 L494.9 454.5 L491.8 448.2 L488.7 445.1 L487.1 442.8 M484.0 428.1 L488.7 429.6 L498.0 432.7 L508.9 436.6 L518.2 439.7 L516.6 431.2 L514.3 425.0 L520.5 422.6 M484.0 428.1 L488.7 425.0 L494.9 420.3 L500.3 414.1 L502.7 407.9 L503.4 404.8 M493.4 397.0 L494.1 403.2 L503.4 404.8 L512.0 402.4 L516.6 397.0 M512.0 402.4 L516.6 406.3 L522.9 409.4 L526.0 412.5 L522.9 418.0 L520.5 422.6 M520.5 422.6 L535.3 418.7 L550.8 414.1 L566.3 410.2 L580.0 407.9 M558.6 397.0 L564.8 403.2 L569.4 408.6 M487.1 440.5 L494.9 442.0 L501.1 445.1 L508.9 446.7 L516.6 444.4 L525.2 443.6 L527.5 449.8 L529.8 457.6 L529.1 462.2 L527.5 463.8 M500.3 468.4 L499.6 471.5 L505.8 470.0 L512.0 466.1 L516.6 462.2 L519.0 465.3 L527.5 463.8 M527.5 463.8 L529.1 468.4 L532.2 472.3 L536.8 473.1 L543.0 474.6 L544.6 478.5 L552.4 477.0 L558.6 480.9 L561.7 477.7 L567.9 474.6 L580.0 473.1 M580.0 430.4 L576.4 430.4 L576.4 442.0 L567.9 452.9 L567.1 474.6 M532.2 472.3 L527.5 477.7 L522.9 483.2 L527.5 487.8 L536.8 488.6 L543.0 491.7 L538.4 497.9 L544.6 498.7 L553.9 497.9 L555.5 505.7 L557.0 511.9 L563.2 512.7 L566.3 519.7 L569.4 524.3 L565.6 527.4 L567.9 530.5 L580.0 529.0 M538.4 497.9 L533.0 504.1 L529.1 511.9 L527.5 515.0 M491.8 470.0 L492.6 477.7 L494.9 484.0 L495.7 490.9 L494.1 496.4 L492.6 502.6 L491.0 513.5 L491.0 524.3 M494.9 481.6 L504.2 482.4 L512.0 484.7 L519.8 487.8 L527.5 489.4 L536.8 488.6 M495.7 493.3 L501.1 497.9 L505.8 505.7 L507.3 515.0 L508.9 521.2 L504.2 525.1 M467.0 490.2 L470.1 496.4 L468.5 504.1 L465.4 511.9 L463.9 518.1 L462.3 525.9 L464.6 529.0 L465.4 535.2 L463.9 542.2 M470.8 496.4 L479.4 500.3 L484.0 504.1 L488.7 501.8 L492.6 502.6 M465.4 512.7 L473.2 510.4 L480.9 507.2 L484.0 504.1 M480.9 509.6 L482.5 516.6 L482.5 525.1 M469.3 511.9 L468.5 519.7 L474.7 522.8 L482.5 525.1 L491.0 524.3 L504.2 525.1 M488.7 502.6 L491.8 505.7 L495.7 508.8 L493.4 513.5 L491.0 515.0 M421.9 513.5 L435.9 511.9 L442.1 512.7 L451.4 513.1 L465.4 512.7 M421.9 513.5 L420.4 521.2 L418.0 527.4 L421.9 536.8 L429.7 541.4 L435.1 544.5 L438.2 538.3 L437.5 533.6 L439.8 525.9 L437.5 519.7 L435.9 511.9 M438.2 538.3 L442.1 533.6 L448.3 529.0 L454.5 526.7 L462.3 525.9 M438.2 538.3 L441.3 544.5 L443.7 547.6 L451.4 547.6 L457.6 543.0 L463.9 542.2 L470.1 543.7 L471.6 547.6 L476.3 551.5 L482.5 546.1 L485.6 539.9 L486.4 535.2 L482.5 536.8 L476.3 535.2 L470.1 533.6 L465.4 535.2 M443.7 547.6 L442.1 553.8 L439.8 558.5 L435.9 559.3 L436.7 568.0 M439.8 558.5 L448.3 556.9 L456.9 556.2 L458.4 568.0 M464.6 529.0 L473.2 532.1 L482.5 534.4 L483.3 525.9 M504.2 525.1 L505.8 533.6 L505.0 543.0 L502.7 546.1 L499.6 552.3 L498.8 558.5 L504.2 560.8 L510.4 563.1 L516.6 561.6 L519.8 560.0 M502.7 544.5 L508.9 543.7 L515.1 550.7 L519.8 560.0 L527.5 561.6 L533.7 563.1 M506.6 530.5 L513.5 535.2 L519.8 539.1 L529.1 539.9 L533.7 543.7 L541.5 535.2 L549.3 533.6 L548.5 527.4 L546.9 521.2 L544.6 519.7 L535.3 517.3 L527.5 515.0 L519.8 518.1 L512.0 519.7 L507.3 522.8 M533.7 543.7 L533.7 552.3 L533.7 563.1 L535.3 568.0 M516.6 552.3 L524.4 550.7 L533.7 550.0 M546.9 521.2 L550.8 515.0 L557.0 516.6 L558.6 522.8 L563.2 527.4 M549.3 533.6 L552.4 539.9 L553.1 547.6 L544.6 549.2 L536.8 546.8 M553.1 547.6 L560.1 546.1 L572.5 543.0 L574.1 529.0 L580.0 528.2 M563.2 527.4 L561.7 533.6 L563.2 539.9 L560.1 546.1 M574.1 543.0 L571.0 552.3 L563.2 555.4 L566.3 561.6 L571.0 568.0 M550.8 549.2 L553.9 556.9 L558.6 561.6 L561.7 568.0 M539.9 552.3 L544.6 558.5 L550.8 560.0 M504.2 560.8 L507.3 564.7 L513.5 567.0 L519.8 568.0 M408.0 568.0 L408.7 574.2 L411.1 577.3 L416.5 580.4 L418.8 585.1 L418.8 592.1 M380.0 585.1 L387.8 581.2 L394.0 587.4 L406.4 591.3 L418.8 592.1 M418.8 592.1 L425.0 583.5 L430.0 577.6 L432.8 585.9 L435.1 592.1 M435.1 568.0 L436.7 577.3 L438.2 586.6 L440.6 594.4 L446.8 595.2 L454.5 596.7 L463.9 598.3 L471.6 599.8 L479.4 600.6 M463.9 598.3 L465.4 588.2 L467.7 578.9 L473.2 574.2 L480.9 570.3 L485.6 572.7 L488.7 578.9 L491.8 585.1 L498.0 588.2 L500.3 587.4 L498.0 583.5 M458.4 568.0 L459.2 574.2 L465.4 578.1 L468.5 578.9 M479.4 600.6 L488.7 596.7 L498.0 592.1 L504.2 589.0 L508.1 586.6 L512.0 592.1 L515.1 596.7 L520.5 602.2 L524.4 608.4 M498.0 583.5 L502.7 580.4 L508.9 578.1 L515.1 579.6 L517.4 583.5 L517.4 591.3 L513.5 592.8 M512.0 592.1 L510.4 599.1 L512.0 602.2 L510.4 609.1 M479.4 600.6 L480.2 606.8 L480.9 609.9 L479.4 614.6 L478.6 617.7 M469.3 618.5 L478.6 617.7 L491.8 614.6 L501.1 612.3 L510.4 609.6 L522.9 609.1 L524.4 614.6 L525.2 620.0 L522.9 625.5 L520.5 630.1 L522.9 634.0 L526.0 637.1 M469.3 618.5 L473.2 621.6 L476.3 624.7 L479.4 627.0 L477.8 633.2 L476.3 639.4 L480.9 643.3 L487.1 646.4 L493.4 649.5 M456.9 630.1 L467.0 627.8 L479.4 627.0 M450.7 609.1 L453.0 619.2 L454.5 625.5 L456.9 630.1 L462.3 635.5 L467.0 641.0 L470.1 648.7 L471.6 649.5 L477.0 643.3 M450.7 609.1 L457.6 609.1 L462.3 604.5 L467.0 601.4 L474.7 601.4 L479.4 605.3 L480.9 609.9 M493.4 616.1 L498.0 622.3 L502.7 627.8 L505.8 631.7 L512.0 634.0 L516.6 635.5 L520.5 630.1 M493.4 649.5 L498.0 642.5 L502.7 644.9 L505.8 643.3 L510.4 647.2 L515.1 648.0 L519.8 647.2 L521.3 652.6 M487.1 650.3 L493.4 649.5 L504.2 652.6 L513.5 654.2 L521.3 655.0 M487.1 650.3 L484.0 656.5 L479.4 662.7 L474.7 668.2 L479.4 670.5 L484.0 672.0 L485.6 675.1 L491.8 678.2 L498.0 681.4 L501.1 682.1 L504.2 675.1 L507.3 668.9 L512.0 666.6 L519.8 664.3 L526.0 661.9 L535.3 659.6 L544.6 656.5 M521.3 652.6 L522.1 661.2 L524.4 667.4 L526.0 673.6 L526.7 682.9 L522.9 690.7 L520.5 691.4 M501.1 682.1 L502.7 689.1 L504.2 692.2 L512.0 692.2 L520.5 691.4 L522.9 692.2 L524.4 700.0 L522.1 707.8 L522.1 717.1 L522.9 723.3 M526.0 637.1 L535.3 633.2 L544.6 628.6 L550.8 631.7 L555.5 633.2 M544.6 628.6 L547.7 622.3 L552.4 614.6 L557.0 609.1 L560.1 599.1 L560.9 587.4 M531.4 616.1 L538.4 620.0 L545.4 623.1 M531.4 616.1 L533.0 612.3 L539.9 609.1 L546.1 609.9 L555.5 609.1 M524.4 608.4 L526.0 599.1 L531.4 597.5 L532.2 606.8 L533.0 612.3 M525.2 588.2 L532.2 587.4 L541.5 585.9 L550.8 586.6 L560.9 587.4 L566.3 583.5 L574.1 582.0 L580.0 583.5 M533.7 568.0 L533.0 577.3 L533.7 586.6 M517.4 568.0 L521.3 574.2 L524.4 580.4 L525.2 588.2 M548.5 571.1 L550.8 577.3 L552.4 583.5 L553.9 586.6 M560.1 599.1 L566.3 602.2 L569.4 608.4 L568.7 614.6 L572.5 617.7 L580.0 619.2 M569.4 603.7 L577.2 602.9 L580.0 599.1 M557.0 609.1 L563.2 611.5 L568.7 614.6 M567.9 577.3 L572.5 572.7 L574.1 568.0 M550.8 569.6 L558.6 570.3 L566.3 569.6 M540.7 647.2 L547.7 644.9 L553.1 643.3 M380.0 619.2 L384.7 617.7 L392.4 621.6 L397.1 625.5 L399.4 628.6 L398.6 636.3 L397.1 645.6 L395.5 648.7 M399.4 628.6 L408.0 623.9 L417.3 617.7 L421.1 613.0 L419.6 605.3 L418.8 592.1 M421.1 596.0 L428.1 599.8 L432.8 605.3 L433.6 611.5 L432.0 617.7 L427.4 620.0 L428.1 622.3 M433.6 614.6 L442.1 613.8 L442.9 622.3 L440.6 625.5 M380.0 639.4 L386.2 641.0 L390.9 644.1 L395.5 645.6 L397.1 648.7 M397.1 645.6 L404.8 644.1 L412.6 643.3 L417.3 633.2 L421.1 621.6 L426.6 627.0 L431.2 631.7 L432.0 641.0 L432.8 648.7 L433.6 658.1 L431.2 661.2 L425.0 662.7 L417.3 661.2 L409.5 659.6 L404.8 655.7 L400.2 650.3 L397.1 648.7 M380.0 656.5 L386.2 654.2 L390.9 650.3 L397.1 648.7 M433.6 658.1 L437.5 664.3 L441.3 670.5 L442.1 675.1 L446.8 676.7 L445.2 681.4 L439.8 683.7 M439.8 627.0 L441.3 633.2 L443.7 641.0 L445.2 648.7 L446.8 656.5 L448.3 661.2 L453.0 661.2 L452.2 668.9 L453.0 675.1 L446.8 676.7 M440.6 625.5 L443.7 630.1 L446.8 634.8 L449.9 638.7 L453.0 633.2 L456.9 630.1 M448.3 661.2 L454.5 658.1 L460.7 653.4 L467.0 648.7 L470.1 648.7 M453.0 661.2 L460.7 664.3 L468.5 668.2 L476.3 672.0 L482.5 675.9 L484.0 672.0 M417.3 661.2 L418.8 667.4 L413.4 670.5 L409.5 675.1 L408.0 678.2 L401.7 679.8 L394.0 682.9 L386.2 686.0 L380.0 688.3 M413.4 675.1 L414.9 682.9 L413.4 690.7 L414.2 698.4 L408.0 700.8 L403.3 703.1 L401.0 710.9 L398.6 717.1 L397.1 721.7 L380.0 723.3 M380.0 690.7 L381.6 695.3 L380.8 701.5 M397.1 721.7 L411.1 720.2 L427.4 718.6 L429.7 710.9 L432.8 700.0 L435.9 690.7 L439.8 683.7 L449.9 686.0 L460.7 689.9 L468.5 693.8 L473.2 698.4 L479.4 704.6 L481.7 707.8 M427.4 718.6 L428.1 727.9 L442.1 723.3 L453.0 717.1 L463.9 714.7 L470.8 714.0 L473.2 708.5 L481.7 707.8 M481.7 707.8 L484.0 703.1 L482.5 699.2 L491.8 696.9 L496.5 692.2 L499.6 686.0 L501.1 682.1 M481.7 707.8 L491.8 709.3 L501.1 714.0 L508.9 717.8 L515.1 721.0 L522.9 723.3 L529.1 726.4 L535.3 729.5 L544.6 730.3 L550.8 726.4 L553.9 721.7 L557.0 717.1 L561.7 718.6 L566.3 714.7 L572.5 710.9 L575.7 704.6 L580.0 701.5 M544.6 696.9 L543.8 707.8 L543.0 717.1 L542.3 723.3 L546.9 722.5 L550.8 726.4 M550.8 726.4 L547.7 732.6 L543.0 739.0 M470.8 714.0 L479.4 714.7 L478.6 723.3 L474.7 729.5 L473.2 739.0 M441.3 723.3 L442.9 731.0 L443.7 739.0 M397.1 721.7 L400.2 723.3 L400.2 729.5 L396.3 731.0 L394.8 739.0 M403.3 723.3 L405.6 731.0 L407.2 739.0 M566.3 690.7 L569.4 692.2 L572.5 690.7 M529.8 168.2 L533.9 170.5 L538.5 171.1 L543.2 171.6 L546.7 170.7 L550.7 171.6 L556.0 171.6 L559.5 172.2 L562.4 174.0 L563.5 176.9 L566.5 178.1 L567.6 181.0 L568.8 183.9 L567.0 188.0 L565.3 191.4 L563.5 194.9 L560.6 199.6 L558.3 204.3 L555.4 210.1 L553.1 214.2 M550.7 171.6 L551.3 176.3 L551.1 182.1 L550.7 187.4 L558.3 185.9 L567.0 184.5 M529.8 168.2 L528.3 172.8 L527.4 177.5 L525.7 181.0 L526.9 182.7 M526.9 182.7 L530.4 182.1 L533.9 185.0 L536.2 188.0 L535.6 190.9 L539.7 192.0 L544.3 192.6 L548.4 193.8 L549.0 190.3 L550.7 187.4 M526.9 182.7 L523.4 186.8 L519.9 190.9 L522.2 194.9 L524.5 199.6 L526.3 204.3 L526.9 208.9 M519.9 190.9 L515.2 188.5 L509.4 186.2 L507.1 188.5 L504.7 190.9 L503.6 194.9 L503.0 197.8 L500.7 199.6 L501.2 201.9 L498.9 203.1 L494.3 204.3 L489.6 204.8 L484.9 206.6 L486.1 208.9 L488.4 210.1 L487.3 213.6 L484.9 215.9 L481.4 217.1 L478.0 219.4 L476.8 222.9 M548.4 193.8 L546.7 196.1 L544.3 199.0 L539.7 202.5 L535.0 205.4 L530.4 208.3 L528.0 209.5 M544.3 199.0 L545.5 202.5 L546.1 206.6 L548.4 210.1 L551.3 213.0 L553.1 214.2 L554.2 217.6 L557.1 219.4 L559.5 221.7 L560.1 225.2 L563.5 227.0 L561.2 228.7 L560.6 232.8 M560.6 232.8 L560.1 236.9 L560.6 241.5 L561.8 246.2 L566.5 246.8 L569.4 247.3 L568.2 252.0 L567.0 254.9 L564.7 256.7 L566.5 260.2 L569.4 264.8 L571.1 269.5 L570.0 273.0 L568.8 277.0 L573.4 276.5 L578.1 277.6 L581.6 278.2 L580.4 283.4 L579.9 288.0 M561.8 246.2 L564.7 252.0 L566.5 254.9 M526.9 208.9 L528.0 209.5 L529.2 214.7 L528.0 220.6 L526.3 224.1 L524.5 227.5 L521.6 232.2 L519.9 234.5 L520.5 239.2 L521.6 243.9 L529.2 241.5 L536.2 239.2 L543.2 237.4 M543.2 235.7 L546.7 232.8 L552.5 229.9 L555.4 231.6 L558.9 234.5 L560.1 239.2 L560.6 242.7 L559.5 246.8 L554.8 250.3 L550.2 253.2 L549.6 248.5 L549.0 245.0 L545.5 242.7 L546.7 239.2 L543.2 237.4 L543.2 235.7 M496.6 212.4 L502.4 210.7 L507.1 211.2 L504.7 208.9 L508.2 207.7 L511.7 205.4 L515.2 204.3 L518.7 206.6 L521.0 210.1 L522.2 214.7 L522.8 219.4 L522.8 224.1 L526.3 224.1 M522.8 224.1 L517.5 224.6 L512.9 225.2 L509.4 225.8 L507.6 228.1 L510.6 230.5 L507.1 229.9 L504.7 232.2 L503.6 236.9 L504.2 241.5 L504.7 244.4 L509.4 247.3 L512.9 250.3 M496.6 212.4 L500.1 214.7 L501.8 217.1 L501.2 219.4 L505.9 220.0 L507.1 222.9 L504.7 224.1 L500.1 223.8 L501.2 227.5 L507.6 228.1 M486.1 208.9 L489.0 213.6 L491.3 215.9 L488.4 218.8 L490.8 221.1 L490.2 224.1 L493.1 224.6 L493.7 227.5 L497.7 228.1 L501.2 228.1 M519.9 234.5 L516.4 240.4 L512.9 245.0 L510.6 247.9 M478.0 219.4 L477.4 225.2 L476.8 229.9 L476.2 234.5 L478.5 232.8 L481.4 234.5 L484.9 236.3 L486.1 240.4 L486.7 243.9 L493.1 245.0 L500.1 244.4 L504.7 244.4 L510.6 247.9 L517.5 250.3 L524.5 252.6 L527.4 254.3 L522.2 256.7 L515.2 259.0 L509.4 260.7 L507.6 256.1 L504.7 255.5 L500.1 254.9 L499.5 245.6 M493.1 245.0 L493.7 250.8 L494.3 256.1 L498.9 256.1 L500.1 254.9 M507.6 256.1 L508.2 261.3 L507.6 267.1 L508.2 270.6 L511.7 273.0 L511.1 277.6 L505.9 278.8 L503.6 281.7 L505.9 283.4 L507.1 288.0 M511.1 277.6 L516.4 278.8 L520.5 279.4 L522.8 282.9 L519.9 285.2 L525.7 286.9 L531.5 287.5 L532.1 281.1 L540.8 280.0 L550.2 278.8 L559.5 279.4 L560.6 283.4 L561.8 288.0 M550.2 278.8 L557.1 268.3 L564.7 256.7 M559.5 279.4 L566.5 278.2 L568.8 277.0 M476.8 222.9 L471.0 223.5 L466.3 221.7 L461.6 223.5 L457.0 224.1 L453.5 223.5 L450.0 224.6 M457.0 224.1 L460.5 227.5 L462.2 229.9 L461.1 233.4 L461.6 236.9 L459.3 239.2 L455.2 239.2 L452.9 236.9 L454.7 233.4 L453.5 229.9 L452.3 226.4 L453.5 223.5 M476.2 234.5 L473.3 238.0 L471.0 241.5 L468.6 245.0 L467.5 249.7 L464.0 252.0 L460.5 252.0 L457.0 250.8 L453.5 252.0 L450.0 249.7 M481.4 234.5 L480.9 239.2 L479.7 243.9 L479.1 248.5 L475.0 250.8 L473.3 254.3 L467.5 256.7 L462.8 259.0 L461.6 256.7 L460.5 252.0 M461.6 259.0 L462.2 263.6 L460.5 267.1 M498.9 256.1 L497.7 260.2 L498.3 262.5 L493.1 263.6 L489.6 266.6 L486.1 265.4 L481.4 264.8 L478.0 266.6 L475.0 267.1 L476.8 270.6 M643.0 568.0 L641.5 574.2 L639.9 579.6 L637.6 586.6 L636.1 592.8 L629.1 596.0 L622.9 599.1 L619.8 603.7 L622.9 609.9 L625.2 616.1 L626.0 622.3 L624.4 628.6 L622.1 633.2 L629.1 635.5 L635.3 637.9 L634.5 645.6 L633.7 651.9 L629.1 658.1 L631.4 665.8 L627.5 668.9 L619.8 675.1 L613.5 678.2 L610.4 683.7 L604.2 692.2 L594.9 700.0 L582.5 701.5 L580.0 704.9 M619.8 603.7 L615.1 606.8 L610.4 611.5 L604.2 614.6 L598.0 616.1 L594.9 613.0 L593.4 606.8 L591.8 599.1 L590.2 591.3 L588.7 585.1 M598.0 616.1 L594.9 616.1 L588.7 619.2 L582.5 623.1 L580.0 625.0 M598.0 616.1 L601.1 620.8 L608.9 623.9 L612.0 630.1 L616.6 631.7 L622.1 633.2 M602.7 623.9 L599.6 630.1 L596.5 636.3 L594.1 641.0 M597.2 637.9 L604.2 642.5 L612.0 648.7 L619.8 655.0 L626.0 658.1 L629.1 658.1 M622.1 633.2 L620.5 639.4 L619.8 644.1 L624.4 647.2 L627.5 650.3 L633.7 648.7 M591.8 655.0 L594.9 659.6 L599.6 661.2 M588.7 585.1 L598.0 584.3 L607.3 583.5 L613.5 586.6 L619.8 583.5 L629.1 582.0 L637.6 580.4 M588.7 585.1 L580.0 585.1 M613.5 586.6 L615.1 594.4 L619.8 603.7 M607.3 583.5 L608.9 591.3 L612.0 597.5 L616.6 601.4 M591.8 568.0 L590.2 575.8 L588.7 585.1 M602.7 568.0 L603.4 575.8 L604.2 582.0 M613.5 568.0 L616.6 572.7 L621.3 578.9 L629.1 582.0 M580.0 598.3 L580.9 598.3 L590.2 597.5 M580.0 615.5 L580.9 616.1 L588.7 619.2 M580.0 571.8 L580.9 568.0 M573.2 527.8 L579.4 526.7 L578.6 534.8 L577.8 544.1 L576.3 555.0 L573.9 565.9 L570.8 575.2 L567.7 581.4 M285.6 642.5 L277.0 670.0 L270.1 696.9 M233.0 751.1 L269.4 750.8 M597.5 384.0 L599.5 389.0 L599.6 398.0 M478.8 766.8 L477.7 776.1" fill="none" stroke="#8a7830" stroke-width="2.2" stroke-linejoin="round" stroke-linecap="round"/>
<circle cx="464.8" cy="287.9" r="18.8" fill="#c90a0a" stroke="#cfb16b" stroke-width="2.9"/>
<circle cx="426.7" cy="388.6" r="18.8" fill="#c90a0a" stroke="#cfb16b" stroke-width="2.9"/>
<circle cx="301.4" cy="626.1" r="18.8" fill="#c90a0a" stroke="#cfb16b" stroke-width="2.9"/>
<circle cx="624.4" cy="531.4" r="18.8" fill="#c90a0a" stroke="#cfb16b" stroke-width="2.9"/>
<circle cx="573.2" cy="644.3" r="18.8" fill="#c90a0a" stroke="#cfb16b" stroke-width="2.9"/>
<circle cx="252.4" cy="766.4" r="18.8" fill="#c90a0a" stroke="#cfb16b" stroke-width="2.9"/>
<circle cx="548.6" cy="677.8" r="18.8" fill="#c90a0a" stroke="#cfb16b" stroke-width="2.9"/>
<circle cx="589.6" cy="680.2" r="18.8" fill="#c90a0a" stroke="#cfb16b" stroke-width="2.9"/>
<circle cx="283.0" cy="839.5" r="18.8" fill="#c90a0a" stroke="#cfb16b" stroke-width="2.9"/>
<circle cx="252.4" cy="874.5" r="18.8" fill="#c90a0a" stroke="#cfb16b" stroke-width="2.9"/>
<circle cx="290.8" cy="881.5" r="18.8" fill="#c90a0a" stroke="#cfb16b" stroke-width="2.9"/>
</svg>
<h1 id="title"><span class="t" style="left:119.28px;top:80.62px;font-size:54.2px;transform:scaleX(0.939);letter-spacing:2.6px;">ALERTA</span> <span class="t" style="left:351.05px;top:80.62px;font-size:54.2px;transform:scaleX(0.9481);letter-spacing:2.6px;">DE</span> <span class="t" style="left:437.99px;top:80.62px;font-size:54.2px;transform:scaleX(1.0081);letter-spacing:2.6px;">DESMATAMENTO</span> <span class="t" style="left:948.54px;top:80.62px;font-size:54.2px;transform:scaleX(1.0598);letter-spacing:2.6px;">EM</span> <span class="t" style="left:1052.09px;top:80.62px;font-size:54.2px;transform:scaleX(1.0923);letter-spacing:2.6px;">2020</span></h1>
<div id="thead"><span class="t hd" style="left:849.79px;top:194.95px;font-size:23.8px;transform:scaleX(0.9067);">CIDADES</span> <span class="t hd" style="left:1009.27px;top:194.95px;font-size:23.8px;transform:scaleX(0.9155);">Nº DE ALERTAS</span></div>
<div id="table">
<div class="row" style="top:254.2px"><div class="city" style="left:783.3px;width:190.7px"><span class="t" style="left:13.38px;top:-8.12px;font-size:29.2px;transform:scaleX(0.9119);">PARNAGUÁ</span></div><div class="num"><span class="t" style="left:89.20px;top:-8.49px;font-size:29.4px;transform:scaleX(0.95);">61</span></div></div>
<div class="row" style="top:307.2px"><div class="city" style="left:845.3px;width:128.7px"><span class="t" style="left:21.40px;top:-7.02px;font-size:29.2px;transform:scaleX(0.8976);">PIO IX</span></div><div class="num"><span class="t" style="left:90.20px;top:-7.39px;font-size:29.4px;transform:scaleX(0.95);">45</span></div></div>
<div class="row" style="top:360.1px"><div class="city" style="left:751px;width:223.0px"><span class="t" style="left:30.68px;top:-5.72px;font-size:29.2px;transform:scaleX(0.9114);">PAULISTANA</span></div><div class="num"><span class="t" style="left:90.20px;top:-6.09px;font-size:29.4px;transform:scaleX(0.95);">45</span></div></div>
<div class="row" style="top:414px"><div class="city" style="left:808px;width:166.0px"><span class="t" style="left:26.68px;top:-5.62px;font-size:29.2px;transform:scaleX(0.9103);">BARRAS</span></div><div class="num"><span class="t" style="left:90.20px;top:-5.99px;font-size:29.4px;transform:scaleX(0.95);">30</span></div></div>
<div class="row" style="top:467.6px"><div class="city" style="left:828px;width:146.0px"><span class="t" style="left:27.00px;top:-4.72px;font-size:29.2px;transform:scaleX(0.88);">ACAUÃ</span></div><div class="num"><span class="t" style="left:90.20px;top:-5.09px;font-size:29.4px;transform:scaleX(0.95);">29</span></div></div>
<div class="row" style="top:522px"><div class="city" style="left:729px;width:245.0px"><span class="t" style="left:21.60px;top:-5.52px;font-size:29.2px;transform:scaleX(0.8991);">JÚLIO BORGES</span></div><div class="num"><span class="t" style="left:90.20px;top:-5.89px;font-size:29.4px;transform:scaleX(0.95);">26</span></div></div>
<div class="row" style="top:576px"><div class="city" style="left:658px;width:316.0px"><span class="t" style="left:22.59px;top:-4.62px;font-size:29.2px;transform:scaleX(0.9122);">JACOBINA DO PIAUÍ</span></div><div class="num"><span class="t" style="left:90.20px;top:-4.99px;font-size:29.4px;transform:scaleX(0.95);">24</span></div></div>
<div class="row" style="top:630px"><div class="city" style="left:761px;width:213.0px"><span class="t" style="left:22.68px;top:-4.62px;font-size:29.2px;transform:scaleX(0.9121);">BOM JESUS</span></div><div class="num"><span class="t" style="left:90.20px;top:-4.99px;font-size:29.4px;transform:scaleX(0.95);">22</span></div></div>
<div class="row" style="top:684px"><div class="city" style="left:797px;width:177.0px"><span class="t" style="left:19.13px;top:-4.12px;font-size:29.2px;transform:scaleX(0.869);">TERESINA</span></div><div class="num"><span class="t" style="left:90.20px;top:-4.49px;font-size:29.4px;transform:scaleX(0.95);">22</span></div></div>
<div class="row" style="top:738px"><div class="city" style="left:703px;width:271.0px"><span class="t" style="left:24.23px;top:-4.12px;font-size:29.2px;transform:scaleX(0.8843);">SEBASTIÃO LEAL</span></div><div class="num"><span class="t" style="left:90.20px;top:-4.49px;font-size:29.4px;transform:scaleX(0.95);">21</span></div></div>
<div class="row" style="top:792px"><div class="city" style="left:783px;width:191.0px"><span class="t" style="left:23.18px;top:-4.12px;font-size:29.2px;transform:scaleX(0.9122);">CURIMATÁ</span></div><div class="num"><span class="t" style="left:90.20px;top:-4.49px;font-size:29.4px;transform:scaleX(0.95);">20</span></div></div>
<div class="row" style="top:846px"><div class="city" style="left:658px;width:316.0px"><span class="t" style="left:20.20px;top:-4.12px;font-size:29.2px;transform:scaleX(0.8982);">CARIDADE DO PIAUÍ</span></div><div class="num"><span class="t" style="left:90.20px;top:-4.49px;font-size:29.4px;transform:scaleX(0.95);">20</span></div></div>
</div>
<div id="vline"></div>
<p id="src"><span class="t" style="left:104.85px;top:996.27px;font-size:20px;transform:scaleX(0.9736);">Fonte:</span> <span class="t" style="left:168.37px;top:996.27px;font-size:20px;transform:scaleX(0.9142);">MONITORAMENTO DO DESMATAMENTO, USO E COBERTURA DO SOLO NO PIAUÍ:</span> <span class="t" style="left:888.90px;top:996.27px;font-size:20px;transform:scaleX(0.9811);">Análise dos dados prontos fornecidos</span><br><span class="t" style="left:105.82px;top:1021.27px;font-size:20px;transform:scaleX(0.9829);">pelo do MapBiomas</span></p>
</body>
</html>
